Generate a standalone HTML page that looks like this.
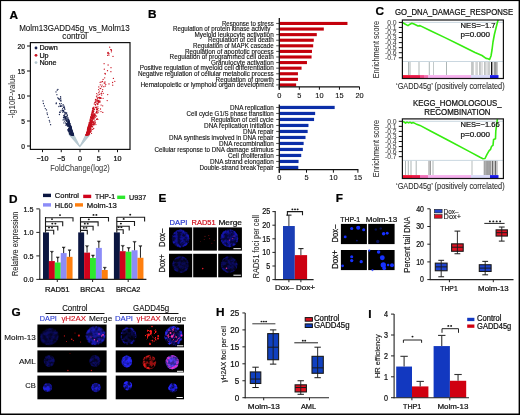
<!DOCTYPE html>
<html><head><meta charset="utf-8"><style>
html,body{margin:0;padding:0;background:#fff;}
svg{display:block;font-family:"Liberation Sans", sans-serif;}
svg{will-change:transform;}
</style></head><body>
<svg width="520" height="415" viewBox="0 0 520 415">
<defs>
<filter id="blurA" x="-50%" y="-50%" width="200%" height="200%"><feGaussianBlur stdDeviation="1.2"/></filter>
<filter id="blurB" x="-100%" y="-100%" width="300%" height="300%"><feGaussianBlur stdDeviation="0.6"/></filter>
<filter id="blurC" x="-50%" y="-50%" width="200%" height="200%"><feGaussianBlur stdDeviation="0.7"/></filter>
<filter id="tx" x="-20%" y="-20%" width="140%" height="140%" color-interpolation-filters="sRGB"><feTurbulence type="fractalNoise" baseFrequency="0.32" numOctaves="2" seed="4" result="n"/><feColorMatrix in="n" type="matrix" values="0 0 0 0 0  0 0 0 0 0  0 0 0 0 0  3.2 0 0 0 -1.1" result="a"/><feComposite in="SourceGraphic" in2="a" operator="in"/><feGaussianBlur stdDeviation="0.35"/></filter>
<filter id="txs" x="-20%" y="-20%" width="140%" height="140%" color-interpolation-filters="sRGB"><feTurbulence type="fractalNoise" baseFrequency="0.4" numOctaves="2" seed="9" result="n"/><feColorMatrix in="n" type="matrix" values="0 0 0 0 0  0 0 0 0 0  0 0 0 0 0  7 0 0 0 -3.9" result="a"/><feComposite in="SourceGraphic" in2="a" operator="in"/><feGaussianBlur stdDeviation="0.3"/></filter>
</defs>
<rect x="0" y="0" width="520" height="415" fill="#fff"/>
<text x="9.60" y="18.50" font-size="11.8" text-anchor="start" fill="#000" stroke="#000" stroke-width="0.24" font-weight="bold">A</text>
<text x="74.50" y="30.60" font-size="9.0" text-anchor="middle" fill="#111" stroke="#111" stroke-width="0.1" textLength="110.60" lengthAdjust="spacingAndGlyphs">Molm13GADD45g_vs_Molm13</text>
<text x="74.65" y="39.20" font-size="9.0" text-anchor="middle" fill="#111" stroke="#111" stroke-width="0.1" textLength="24.70" lengthAdjust="spacingAndGlyphs">control</text>
<path d="M79.8,146.7 L69.2,134.5 L73.5,134.5 Z M79.8,146.7 L89.8,134.5 L86.1,134.5 Z" fill="#b6c8d0" stroke="#b6c8d0" stroke-width="1.2" stroke-linejoin="round"/>
<g>
<circle cx="70.3" cy="125.3" r="0.65" fill="#16214d"/>
<circle cx="58.9" cy="106.5" r="0.65" fill="#16214d"/>
<circle cx="68.9" cy="121.6" r="0.65" fill="#16214d"/>
<circle cx="71.4" cy="128.8" r="0.65" fill="#16214d"/>
<circle cx="60.5" cy="106.4" r="0.65" fill="#16214d"/>
<circle cx="70.3" cy="133.9" r="0.65" fill="#16214d"/>
<circle cx="71.5" cy="128.8" r="0.65" fill="#16214d"/>
<circle cx="68.3" cy="126.6" r="0.65" fill="#16214d"/>
<circle cx="73.4" cy="135.0" r="0.65" fill="#16214d"/>
<circle cx="63.4" cy="110.3" r="0.65" fill="#16214d"/>
<circle cx="66.7" cy="120.6" r="0.65" fill="#16214d"/>
<circle cx="70.6" cy="133.6" r="0.65" fill="#16214d"/>
<circle cx="70.5" cy="125.5" r="0.65" fill="#16214d"/>
<circle cx="67.1" cy="114.6" r="0.65" fill="#16214d"/>
<circle cx="71.8" cy="132.7" r="0.65" fill="#16214d"/>
<circle cx="59.4" cy="114.5" r="0.65" fill="#16214d"/>
<circle cx="70.4" cy="131.7" r="0.65" fill="#16214d"/>
<circle cx="69.4" cy="123.8" r="0.65" fill="#16214d"/>
<circle cx="70.4" cy="132.8" r="0.65" fill="#16214d"/>
<circle cx="61.0" cy="101.1" r="0.65" fill="#16214d"/>
<circle cx="65.8" cy="112.7" r="0.65" fill="#16214d"/>
<circle cx="71.5" cy="133.3" r="0.65" fill="#16214d"/>
<circle cx="71.8" cy="133.5" r="0.65" fill="#16214d"/>
<circle cx="70.0" cy="125.9" r="0.65" fill="#16214d"/>
<circle cx="73.0" cy="135.1" r="0.65" fill="#16214d"/>
<circle cx="70.9" cy="131.4" r="0.65" fill="#16214d"/>
<circle cx="66.0" cy="118.0" r="0.65" fill="#16214d"/>
<circle cx="71.3" cy="128.5" r="0.65" fill="#16214d"/>
<circle cx="63.9" cy="122.9" r="0.65" fill="#16214d"/>
<circle cx="72.1" cy="134.9" r="0.65" fill="#16214d"/>
<circle cx="69.0" cy="121.2" r="0.65" fill="#16214d"/>
<circle cx="68.4" cy="119.6" r="0.65" fill="#16214d"/>
<circle cx="71.9" cy="130.5" r="0.65" fill="#16214d"/>
<circle cx="73.3" cy="134.6" r="0.65" fill="#16214d"/>
<circle cx="71.9" cy="133.1" r="0.65" fill="#16214d"/>
<circle cx="68.7" cy="121.0" r="0.65" fill="#16214d"/>
<circle cx="62.6" cy="108.6" r="0.65" fill="#16214d"/>
<circle cx="71.6" cy="130.7" r="0.65" fill="#16214d"/>
<circle cx="71.1" cy="127.7" r="0.65" fill="#16214d"/>
<circle cx="68.1" cy="121.3" r="0.65" fill="#16214d"/>
<circle cx="68.2" cy="119.1" r="0.65" fill="#16214d"/>
<circle cx="63.8" cy="105.9" r="0.65" fill="#16214d"/>
<circle cx="72.1" cy="134.1" r="0.65" fill="#16214d"/>
<circle cx="62.2" cy="110.1" r="0.65" fill="#16214d"/>
<circle cx="70.2" cy="130.9" r="0.65" fill="#16214d"/>
<circle cx="71.4" cy="131.4" r="0.65" fill="#16214d"/>
<circle cx="72.1" cy="131.3" r="0.65" fill="#16214d"/>
<circle cx="72.5" cy="133.5" r="0.65" fill="#16214d"/>
<circle cx="68.6" cy="123.4" r="0.65" fill="#16214d"/>
<circle cx="73.4" cy="134.6" r="0.65" fill="#16214d"/>
<circle cx="56.0" cy="91.9" r="0.65" fill="#16214d"/>
<circle cx="72.3" cy="132.4" r="0.65" fill="#16214d"/>
<circle cx="69.7" cy="126.1" r="0.65" fill="#16214d"/>
<circle cx="70.0" cy="129.6" r="0.65" fill="#16214d"/>
<circle cx="73.0" cy="134.5" r="0.65" fill="#16214d"/>
<circle cx="71.2" cy="128.3" r="0.65" fill="#16214d"/>
<circle cx="65.0" cy="116.9" r="0.65" fill="#16214d"/>
<circle cx="60.3" cy="105.2" r="0.65" fill="#16214d"/>
<circle cx="70.2" cy="125.1" r="0.65" fill="#16214d"/>
<circle cx="70.9" cy="129.4" r="0.65" fill="#16214d"/>
<circle cx="72.3" cy="133.5" r="0.65" fill="#16214d"/>
<circle cx="70.3" cy="129.1" r="0.65" fill="#16214d"/>
<circle cx="64.7" cy="116.0" r="0.65" fill="#16214d"/>
<circle cx="71.2" cy="128.4" r="0.65" fill="#16214d"/>
<circle cx="67.6" cy="122.0" r="0.65" fill="#16214d"/>
<circle cx="71.7" cy="129.9" r="0.65" fill="#16214d"/>
<circle cx="69.5" cy="133.5" r="0.65" fill="#16214d"/>
<circle cx="56.3" cy="103.0" r="0.65" fill="#16214d"/>
<circle cx="68.5" cy="125.2" r="0.65" fill="#16214d"/>
<circle cx="73.3" cy="134.2" r="0.65" fill="#16214d"/>
<circle cx="71.9" cy="131.9" r="0.65" fill="#16214d"/>
<circle cx="68.5" cy="130.6" r="0.65" fill="#16214d"/>
<circle cx="68.2" cy="119.7" r="0.65" fill="#16214d"/>
<circle cx="66.8" cy="124.2" r="0.65" fill="#16214d"/>
<circle cx="66.7" cy="120.8" r="0.65" fill="#16214d"/>
<circle cx="70.4" cy="131.8" r="0.65" fill="#16214d"/>
<circle cx="71.1" cy="128.5" r="0.65" fill="#16214d"/>
<circle cx="69.8" cy="131.6" r="0.65" fill="#16214d"/>
<circle cx="62.0" cy="106.0" r="0.65" fill="#16214d"/>
<circle cx="71.9" cy="135.0" r="0.65" fill="#16214d"/>
<circle cx="71.1" cy="127.2" r="0.65" fill="#16214d"/>
<circle cx="68.7" cy="128.9" r="0.65" fill="#16214d"/>
<circle cx="65.5" cy="118.1" r="0.65" fill="#16214d"/>
<circle cx="69.6" cy="130.8" r="0.65" fill="#16214d"/>
<circle cx="70.0" cy="124.8" r="0.65" fill="#16214d"/>
<circle cx="68.8" cy="130.8" r="0.65" fill="#16214d"/>
<circle cx="65.0" cy="116.6" r="0.65" fill="#16214d"/>
<circle cx="57.7" cy="97.8" r="0.65" fill="#16214d"/>
<circle cx="59.6" cy="103.7" r="0.65" fill="#16214d"/>
<circle cx="72.8" cy="133.3" r="0.65" fill="#16214d"/>
<circle cx="65.1" cy="117.0" r="0.65" fill="#16214d"/>
<circle cx="68.9" cy="123.3" r="0.65" fill="#16214d"/>
<circle cx="69.4" cy="122.4" r="0.65" fill="#16214d"/>
<circle cx="67.3" cy="119.9" r="0.65" fill="#16214d"/>
<circle cx="69.8" cy="126.4" r="0.65" fill="#16214d"/>
<circle cx="68.6" cy="125.3" r="0.65" fill="#16214d"/>
<circle cx="66.4" cy="120.2" r="0.65" fill="#16214d"/>
<circle cx="71.6" cy="134.8" r="0.65" fill="#16214d"/>
<circle cx="70.8" cy="133.4" r="0.65" fill="#16214d"/>
<circle cx="71.9" cy="132.6" r="0.65" fill="#16214d"/>
<circle cx="69.5" cy="123.5" r="0.65" fill="#16214d"/>
<circle cx="71.2" cy="128.7" r="0.65" fill="#16214d"/>
<circle cx="71.9" cy="132.5" r="0.65" fill="#16214d"/>
<circle cx="72.1" cy="131.3" r="0.65" fill="#16214d"/>
<circle cx="72.8" cy="133.1" r="0.65" fill="#16214d"/>
<circle cx="71.1" cy="128.8" r="0.65" fill="#16214d"/>
<circle cx="70.2" cy="130.3" r="0.65" fill="#16214d"/>
<circle cx="71.2" cy="132.4" r="0.65" fill="#16214d"/>
<circle cx="63.3" cy="111.8" r="0.65" fill="#16214d"/>
<circle cx="72.5" cy="131.8" r="0.65" fill="#16214d"/>
<circle cx="69.3" cy="129.8" r="0.65" fill="#16214d"/>
<circle cx="69.8" cy="130.4" r="0.65" fill="#16214d"/>
<circle cx="72.9" cy="134.7" r="0.65" fill="#16214d"/>
<circle cx="70.5" cy="127.2" r="0.65" fill="#16214d"/>
<circle cx="68.3" cy="131.0" r="0.65" fill="#16214d"/>
<circle cx="65.1" cy="118.0" r="0.65" fill="#16214d"/>
<circle cx="70.8" cy="129.7" r="0.65" fill="#16214d"/>
<circle cx="69.7" cy="130.5" r="0.65" fill="#16214d"/>
<circle cx="71.3" cy="133.6" r="0.65" fill="#16214d"/>
<circle cx="61.3" cy="103.6" r="0.65" fill="#16214d"/>
<circle cx="60.3" cy="100.7" r="0.65" fill="#16214d"/>
<circle cx="64.9" cy="112.7" r="0.65" fill="#16214d"/>
<circle cx="72.1" cy="135.1" r="0.65" fill="#16214d"/>
<circle cx="68.9" cy="125.6" r="0.65" fill="#16214d"/>
<circle cx="70.7" cy="133.6" r="0.65" fill="#16214d"/>
<circle cx="69.3" cy="130.4" r="0.65" fill="#16214d"/>
<circle cx="71.6" cy="129.4" r="0.65" fill="#16214d"/>
<circle cx="59.4" cy="99.2" r="0.65" fill="#16214d"/>
<circle cx="68.1" cy="130.3" r="0.65" fill="#16214d"/>
<circle cx="69.6" cy="126.0" r="0.65" fill="#16214d"/>
<circle cx="70.6" cy="132.1" r="0.65" fill="#16214d"/>
<circle cx="71.6" cy="129.7" r="0.65" fill="#16214d"/>
<circle cx="70.3" cy="131.3" r="0.65" fill="#16214d"/>
<circle cx="72.3" cy="131.7" r="0.65" fill="#16214d"/>
<circle cx="69.6" cy="128.6" r="0.65" fill="#16214d"/>
<circle cx="69.9" cy="129.2" r="0.65" fill="#16214d"/>
<circle cx="71.8" cy="131.6" r="0.65" fill="#16214d"/>
<circle cx="70.7" cy="135.0" r="0.65" fill="#16214d"/>
<circle cx="70.5" cy="127.5" r="0.65" fill="#16214d"/>
<circle cx="63.1" cy="119.9" r="0.65" fill="#16214d"/>
<circle cx="72.6" cy="132.3" r="0.65" fill="#16214d"/>
<circle cx="57.2" cy="90.2" r="0.65" fill="#16214d"/>
<circle cx="70.9" cy="131.6" r="0.65" fill="#16214d"/>
<circle cx="68.8" cy="124.7" r="0.65" fill="#16214d"/>
<circle cx="70.6" cy="125.8" r="0.65" fill="#16214d"/>
<circle cx="67.9" cy="120.8" r="0.65" fill="#16214d"/>
<circle cx="70.9" cy="131.5" r="0.65" fill="#16214d"/>
<circle cx="72.1" cy="131.6" r="0.65" fill="#16214d"/>
<circle cx="69.3" cy="127.6" r="0.65" fill="#16214d"/>
<circle cx="68.8" cy="121.4" r="0.65" fill="#16214d"/>
<circle cx="69.2" cy="126.2" r="0.65" fill="#16214d"/>
<circle cx="71.3" cy="129.0" r="0.65" fill="#16214d"/>
<circle cx="62.9" cy="110.3" r="0.65" fill="#16214d"/>
<circle cx="72.3" cy="135.0" r="0.65" fill="#16214d"/>
<circle cx="66.0" cy="120.0" r="0.65" fill="#16214d"/>
<circle cx="68.4" cy="122.8" r="0.65" fill="#16214d"/>
<circle cx="65.7" cy="125.1" r="0.65" fill="#16214d"/>
<circle cx="71.6" cy="130.2" r="0.65" fill="#16214d"/>
<circle cx="71.3" cy="130.1" r="0.65" fill="#16214d"/>
<circle cx="71.5" cy="131.6" r="0.65" fill="#16214d"/>
<circle cx="63.5" cy="117.4" r="0.65" fill="#16214d"/>
<circle cx="68.1" cy="123.2" r="0.65" fill="#16214d"/>
<circle cx="71.0" cy="129.4" r="0.65" fill="#16214d"/>
<circle cx="60.9" cy="110.9" r="0.65" fill="#16214d"/>
<circle cx="71.0" cy="133.6" r="0.65" fill="#16214d"/>
<circle cx="71.1" cy="128.2" r="0.65" fill="#16214d"/>
<circle cx="70.9" cy="131.1" r="0.65" fill="#16214d"/>
<circle cx="65.6" cy="118.4" r="0.65" fill="#16214d"/>
<circle cx="73.0" cy="134.4" r="0.65" fill="#16214d"/>
<circle cx="64.1" cy="119.4" r="0.65" fill="#16214d"/>
<circle cx="66.7" cy="124.2" r="0.65" fill="#16214d"/>
<circle cx="60.6" cy="96.6" r="0.65" fill="#16214d"/>
<circle cx="65.6" cy="123.0" r="0.65" fill="#16214d"/>
<circle cx="71.8" cy="132.6" r="0.65" fill="#16214d"/>
<circle cx="67.0" cy="124.7" r="0.65" fill="#16214d"/>
<circle cx="72.3" cy="133.7" r="0.65" fill="#16214d"/>
<circle cx="71.6" cy="131.6" r="0.65" fill="#16214d"/>
<circle cx="70.0" cy="125.7" r="0.65" fill="#16214d"/>
<circle cx="70.5" cy="129.8" r="0.65" fill="#16214d"/>
<circle cx="71.6" cy="134.7" r="0.65" fill="#16214d"/>
<circle cx="72.7" cy="134.0" r="0.65" fill="#16214d"/>
<circle cx="72.9" cy="134.5" r="0.65" fill="#16214d"/>
<circle cx="70.7" cy="126.5" r="0.65" fill="#16214d"/>
<circle cx="69.7" cy="133.7" r="0.65" fill="#16214d"/>
<circle cx="70.8" cy="129.4" r="0.65" fill="#16214d"/>
<circle cx="69.0" cy="128.4" r="0.65" fill="#16214d"/>
<circle cx="64.1" cy="107.2" r="0.65" fill="#16214d"/>
<circle cx="69.3" cy="123.1" r="0.65" fill="#16214d"/>
<circle cx="71.7" cy="133.5" r="0.65" fill="#16214d"/>
<circle cx="63.4" cy="111.0" r="0.65" fill="#16214d"/>
<circle cx="69.9" cy="127.0" r="0.65" fill="#16214d"/>
<circle cx="70.0" cy="127.1" r="0.65" fill="#16214d"/>
<circle cx="72.6" cy="132.2" r="0.65" fill="#16214d"/>
<circle cx="71.1" cy="133.7" r="0.65" fill="#16214d"/>
<circle cx="70.8" cy="132.4" r="0.65" fill="#16214d"/>
<circle cx="70.9" cy="133.1" r="0.65" fill="#16214d"/>
<circle cx="69.1" cy="122.6" r="0.65" fill="#16214d"/>
<circle cx="69.4" cy="124.1" r="0.65" fill="#16214d"/>
<circle cx="71.7" cy="134.1" r="0.65" fill="#16214d"/>
<circle cx="71.1" cy="132.4" r="0.65" fill="#16214d"/>
<circle cx="64.6" cy="114.2" r="0.65" fill="#16214d"/>
<circle cx="68.3" cy="119.2" r="0.65" fill="#16214d"/>
<circle cx="73.4" cy="134.8" r="0.65" fill="#16214d"/>
<circle cx="72.5" cy="133.5" r="0.65" fill="#16214d"/>
<circle cx="63.1" cy="104.7" r="0.65" fill="#16214d"/>
<circle cx="72.1" cy="133.9" r="0.65" fill="#16214d"/>
<circle cx="58.9" cy="99.1" r="0.65" fill="#16214d"/>
<circle cx="70.4" cy="133.6" r="0.65" fill="#16214d"/>
<circle cx="69.6" cy="125.3" r="0.65" fill="#16214d"/>
<circle cx="71.2" cy="131.0" r="0.65" fill="#16214d"/>
<circle cx="69.4" cy="125.6" r="0.65" fill="#16214d"/>
<circle cx="71.8" cy="133.6" r="0.65" fill="#16214d"/>
<circle cx="65.2" cy="117.3" r="0.65" fill="#16214d"/>
<circle cx="69.0" cy="129.4" r="0.65" fill="#16214d"/>
<circle cx="64.0" cy="116.0" r="0.65" fill="#16214d"/>
<circle cx="70.6" cy="126.6" r="0.65" fill="#16214d"/>
<circle cx="68.5" cy="121.6" r="0.65" fill="#16214d"/>
<circle cx="73.1" cy="134.8" r="0.65" fill="#16214d"/>
<circle cx="69.4" cy="132.8" r="0.65" fill="#16214d"/>
<circle cx="70.5" cy="128.5" r="0.65" fill="#16214d"/>
<circle cx="66.4" cy="120.8" r="0.65" fill="#16214d"/>
<circle cx="66.7" cy="113.0" r="0.65" fill="#16214d"/>
<circle cx="68.4" cy="125.4" r="0.65" fill="#16214d"/>
<circle cx="72.4" cy="134.0" r="0.65" fill="#16214d"/>
<circle cx="72.2" cy="133.4" r="0.65" fill="#16214d"/>
<circle cx="70.5" cy="130.2" r="0.65" fill="#16214d"/>
<circle cx="65.7" cy="113.9" r="0.65" fill="#16214d"/>
<circle cx="71.4" cy="131.9" r="0.65" fill="#16214d"/>
<circle cx="72.7" cy="133.3" r="0.65" fill="#16214d"/>
<circle cx="70.1" cy="128.5" r="0.65" fill="#16214d"/>
<circle cx="72.2" cy="134.8" r="0.65" fill="#16214d"/>
<circle cx="63.5" cy="107.3" r="0.65" fill="#16214d"/>
<circle cx="68.8" cy="123.5" r="0.65" fill="#16214d"/>
<circle cx="61.2" cy="106.0" r="0.65" fill="#16214d"/>
<circle cx="72.5" cy="133.8" r="0.65" fill="#16214d"/>
<circle cx="68.5" cy="123.9" r="0.65" fill="#16214d"/>
<circle cx="68.7" cy="122.0" r="0.65" fill="#16214d"/>
<circle cx="72.6" cy="134.8" r="0.65" fill="#16214d"/>
<circle cx="71.2" cy="132.5" r="0.65" fill="#16214d"/>
<circle cx="60.5" cy="98.8" r="0.65" fill="#16214d"/>
<circle cx="71.4" cy="130.6" r="0.65" fill="#16214d"/>
<circle cx="70.7" cy="131.8" r="0.65" fill="#16214d"/>
<circle cx="69.2" cy="121.9" r="0.65" fill="#16214d"/>
<circle cx="71.7" cy="132.3" r="0.65" fill="#16214d"/>
<circle cx="67.1" cy="123.9" r="0.65" fill="#16214d"/>
<circle cx="70.8" cy="129.5" r="0.65" fill="#16214d"/>
<circle cx="60.7" cy="98.0" r="0.65" fill="#16214d"/>
<circle cx="68.8" cy="120.0" r="0.65" fill="#16214d"/>
<circle cx="69.6" cy="129.8" r="0.65" fill="#16214d"/>
<circle cx="57.9" cy="89.4" r="0.65" fill="#16214d"/>
<circle cx="70.8" cy="127.8" r="0.65" fill="#16214d"/>
<circle cx="72.7" cy="134.4" r="0.65" fill="#16214d"/>
<circle cx="59.6" cy="112.2" r="0.65" fill="#16214d"/>
<circle cx="73.2" cy="134.5" r="0.65" fill="#16214d"/>
<circle cx="71.0" cy="132.3" r="0.65" fill="#16214d"/>
<circle cx="72.9" cy="134.5" r="0.65" fill="#16214d"/>
<circle cx="71.4" cy="132.2" r="0.65" fill="#16214d"/>
<circle cx="72.6" cy="134.6" r="0.65" fill="#16214d"/>
<circle cx="72.5" cy="134.7" r="0.65" fill="#16214d"/>
<circle cx="71.1" cy="128.0" r="0.65" fill="#16214d"/>
<circle cx="71.2" cy="130.0" r="0.65" fill="#16214d"/>
<circle cx="72.2" cy="131.3" r="0.65" fill="#16214d"/>
<circle cx="69.6" cy="134.0" r="0.65" fill="#16214d"/>
<circle cx="69.5" cy="126.0" r="0.65" fill="#16214d"/>
<circle cx="67.4" cy="115.7" r="0.65" fill="#16214d"/>
<circle cx="70.8" cy="127.3" r="0.65" fill="#16214d"/>
<circle cx="69.8" cy="128.4" r="0.65" fill="#16214d"/>
<circle cx="69.6" cy="125.3" r="0.65" fill="#16214d"/>
<circle cx="67.8" cy="122.2" r="0.65" fill="#16214d"/>
<circle cx="70.8" cy="129.1" r="0.65" fill="#16214d"/>
<circle cx="67.9" cy="117.6" r="0.65" fill="#16214d"/>
<circle cx="71.5" cy="131.4" r="0.65" fill="#16214d"/>
<circle cx="72.8" cy="134.2" r="0.65" fill="#16214d"/>
<circle cx="69.1" cy="131.3" r="0.65" fill="#16214d"/>
<circle cx="72.0" cy="133.7" r="0.65" fill="#16214d"/>
<circle cx="72.7" cy="134.2" r="0.65" fill="#16214d"/>
<circle cx="70.6" cy="129.5" r="0.65" fill="#16214d"/>
<circle cx="72.8" cy="134.5" r="0.65" fill="#16214d"/>
<circle cx="68.4" cy="123.0" r="0.65" fill="#16214d"/>
<circle cx="72.2" cy="131.7" r="0.65" fill="#16214d"/>
<circle cx="70.5" cy="130.4" r="0.65" fill="#16214d"/>
<circle cx="71.3" cy="131.3" r="0.65" fill="#16214d"/>
<circle cx="64.4" cy="121.1" r="0.65" fill="#16214d"/>
<circle cx="68.6" cy="124.5" r="0.65" fill="#16214d"/>
<circle cx="66.8" cy="120.8" r="0.65" fill="#16214d"/>
<circle cx="67.0" cy="118.1" r="0.65" fill="#16214d"/>
<circle cx="66.8" cy="124.4" r="0.65" fill="#16214d"/>
<circle cx="68.8" cy="123.0" r="0.65" fill="#16214d"/>
<circle cx="71.9" cy="132.0" r="0.65" fill="#16214d"/>
<circle cx="71.6" cy="133.7" r="0.65" fill="#16214d"/>
<circle cx="72.7" cy="134.4" r="0.65" fill="#16214d"/>
<circle cx="68.5" cy="123.8" r="0.65" fill="#16214d"/>
<circle cx="69.7" cy="131.7" r="0.65" fill="#16214d"/>
<circle cx="69.7" cy="127.0" r="0.65" fill="#16214d"/>
<circle cx="72.7" cy="134.8" r="0.65" fill="#16214d"/>
<circle cx="71.9" cy="130.7" r="0.65" fill="#16214d"/>
<circle cx="63.9" cy="115.5" r="0.65" fill="#16214d"/>
<circle cx="72.0" cy="132.5" r="0.65" fill="#16214d"/>
<circle cx="70.7" cy="129.5" r="0.65" fill="#16214d"/>
<circle cx="72.5" cy="135.0" r="0.65" fill="#16214d"/>
<circle cx="69.3" cy="126.3" r="0.65" fill="#16214d"/>
<circle cx="70.9" cy="134.1" r="0.65" fill="#16214d"/>
<circle cx="69.7" cy="127.5" r="0.65" fill="#16214d"/>
<circle cx="69.1" cy="129.2" r="0.65" fill="#16214d"/>
<circle cx="64.5" cy="107.2" r="0.65" fill="#16214d"/>
<circle cx="71.5" cy="131.3" r="0.65" fill="#16214d"/>
<circle cx="62.8" cy="110.4" r="0.65" fill="#16214d"/>
<circle cx="71.3" cy="129.3" r="0.65" fill="#16214d"/>
<circle cx="66.3" cy="120.5" r="0.65" fill="#16214d"/>
<circle cx="61.0" cy="100.1" r="0.65" fill="#16214d"/>
<circle cx="67.7" cy="126.0" r="0.65" fill="#16214d"/>
<circle cx="69.8" cy="129.7" r="0.65" fill="#16214d"/>
<circle cx="73.0" cy="134.6" r="0.65" fill="#16214d"/>
<circle cx="70.8" cy="126.5" r="0.65" fill="#16214d"/>
<circle cx="70.1" cy="128.5" r="0.65" fill="#16214d"/>
<circle cx="71.6" cy="132.7" r="0.65" fill="#16214d"/>
<circle cx="71.9" cy="131.9" r="0.65" fill="#16214d"/>
<circle cx="69.9" cy="130.7" r="0.65" fill="#16214d"/>
<circle cx="69.1" cy="121.2" r="0.65" fill="#16214d"/>
<circle cx="71.1" cy="132.2" r="0.65" fill="#16214d"/>
<circle cx="56.9" cy="94.7" r="0.65" fill="#16214d"/>
<circle cx="67.0" cy="125.5" r="0.65" fill="#16214d"/>
<circle cx="69.8" cy="130.0" r="0.65" fill="#16214d"/>
<circle cx="68.6" cy="128.4" r="0.65" fill="#16214d"/>
<circle cx="73.1" cy="134.7" r="0.65" fill="#16214d"/>
<circle cx="68.7" cy="122.5" r="0.65" fill="#16214d"/>
<circle cx="64.8" cy="112.1" r="0.65" fill="#16214d"/>
<circle cx="69.3" cy="131.2" r="0.65" fill="#16214d"/>
<circle cx="67.9" cy="123.6" r="0.65" fill="#16214d"/>
<circle cx="65.9" cy="119.0" r="0.65" fill="#16214d"/>
<circle cx="69.9" cy="130.4" r="0.65" fill="#16214d"/>
<circle cx="70.7" cy="126.3" r="0.65" fill="#16214d"/>
<circle cx="71.8" cy="133.1" r="0.65" fill="#16214d"/>
<circle cx="72.6" cy="134.8" r="0.65" fill="#16214d"/>
<circle cx="70.9" cy="131.4" r="0.65" fill="#16214d"/>
<circle cx="68.0" cy="122.9" r="0.65" fill="#16214d"/>
<circle cx="68.5" cy="130.0" r="0.65" fill="#16214d"/>
<circle cx="64.9" cy="109.3" r="0.65" fill="#16214d"/>
<circle cx="68.5" cy="123.3" r="0.65" fill="#16214d"/>
<circle cx="65.8" cy="119.1" r="0.65" fill="#16214d"/>
<circle cx="69.8" cy="130.6" r="0.65" fill="#16214d"/>
<circle cx="69.6" cy="127.7" r="0.65" fill="#16214d"/>
<circle cx="71.9" cy="131.8" r="0.65" fill="#16214d"/>
<circle cx="71.8" cy="130.7" r="0.65" fill="#16214d"/>
<circle cx="70.7" cy="126.4" r="0.65" fill="#16214d"/>
<circle cx="69.6" cy="131.4" r="0.65" fill="#16214d"/>
<circle cx="64.6" cy="108.6" r="0.65" fill="#16214d"/>
<circle cx="70.8" cy="134.4" r="0.65" fill="#16214d"/>
<circle cx="66.3" cy="121.1" r="0.65" fill="#16214d"/>
<circle cx="60.1" cy="112.4" r="0.65" fill="#16214d"/>
<circle cx="68.0" cy="123.5" r="0.65" fill="#16214d"/>
<circle cx="67.7" cy="125.7" r="0.65" fill="#16214d"/>
<circle cx="69.2" cy="132.8" r="0.65" fill="#16214d"/>
<circle cx="72.3" cy="132.4" r="0.65" fill="#16214d"/>
<circle cx="58.5" cy="98.3" r="0.65" fill="#16214d"/>
<circle cx="73.2" cy="135.1" r="0.65" fill="#16214d"/>
<circle cx="70.8" cy="130.2" r="0.65" fill="#16214d"/>
<circle cx="62.6" cy="112.1" r="0.65" fill="#16214d"/>
<circle cx="63.8" cy="111.0" r="0.65" fill="#16214d"/>
<circle cx="72.1" cy="133.9" r="0.65" fill="#16214d"/>
<circle cx="66.5" cy="123.4" r="0.65" fill="#16214d"/>
<circle cx="71.1" cy="130.4" r="0.65" fill="#16214d"/>
<circle cx="66.2" cy="113.3" r="0.65" fill="#16214d"/>
<circle cx="71.1" cy="132.0" r="0.65" fill="#16214d"/>
<circle cx="69.5" cy="125.4" r="0.65" fill="#16214d"/>
<circle cx="69.7" cy="125.1" r="0.65" fill="#16214d"/>
<circle cx="68.9" cy="120.6" r="0.65" fill="#16214d"/>
<circle cx="70.2" cy="126.8" r="0.65" fill="#16214d"/>
<circle cx="65.0" cy="117.4" r="0.65" fill="#16214d"/>
<circle cx="69.8" cy="129.7" r="0.65" fill="#16214d"/>
<circle cx="67.8" cy="129.6" r="0.65" fill="#16214d"/>
<circle cx="71.7" cy="131.5" r="0.65" fill="#16214d"/>
<circle cx="68.9" cy="131.8" r="0.65" fill="#16214d"/>
<circle cx="70.2" cy="133.0" r="0.65" fill="#16214d"/>
<circle cx="72.0" cy="134.8" r="0.65" fill="#16214d"/>
<circle cx="68.9" cy="125.9" r="0.65" fill="#16214d"/>
<circle cx="72.1" cy="133.1" r="0.65" fill="#16214d"/>
<circle cx="67.6" cy="124.7" r="0.65" fill="#16214d"/>
<circle cx="69.8" cy="123.4" r="0.65" fill="#16214d"/>
<circle cx="70.8" cy="128.5" r="0.65" fill="#16214d"/>
<circle cx="65.7" cy="117.1" r="0.65" fill="#16214d"/>
<circle cx="67.0" cy="116.1" r="0.65" fill="#16214d"/>
<circle cx="68.9" cy="124.7" r="0.65" fill="#16214d"/>
<circle cx="69.1" cy="123.2" r="0.65" fill="#16214d"/>
<circle cx="66.6" cy="116.7" r="0.65" fill="#16214d"/>
<circle cx="72.8" cy="132.9" r="0.65" fill="#16214d"/>
<circle cx="72.2" cy="133.4" r="0.65" fill="#16214d"/>
<circle cx="69.9" cy="125.5" r="0.65" fill="#16214d"/>
<circle cx="73.1" cy="134.0" r="0.65" fill="#16214d"/>
<circle cx="64.1" cy="118.2" r="0.65" fill="#16214d"/>
<circle cx="67.2" cy="118.8" r="0.65" fill="#16214d"/>
<circle cx="56.2" cy="103.7" r="0.65" fill="#16214d"/>
<circle cx="69.5" cy="125.3" r="0.65" fill="#16214d"/>
<circle cx="73.1" cy="134.0" r="0.65" fill="#16214d"/>
<circle cx="72.9" cy="134.4" r="0.65" fill="#16214d"/>
<circle cx="69.8" cy="129.0" r="0.65" fill="#16214d"/>
<circle cx="70.0" cy="123.7" r="0.65" fill="#16214d"/>
<circle cx="71.2" cy="129.9" r="0.65" fill="#16214d"/>
<circle cx="43.0" cy="100.9" r="0.65" fill="#16214d"/>
<circle cx="43.4" cy="103.5" r="0.65" fill="#16214d"/>
<circle cx="44.4" cy="105.9" r="0.65" fill="#16214d"/>
<circle cx="45.3" cy="108.6" r="0.65" fill="#16214d"/>
<circle cx="46.5" cy="109.9" r="0.65" fill="#16214d"/>
<circle cx="47.1" cy="113.0" r="0.65" fill="#16214d"/>
<circle cx="47.4" cy="114.6" r="0.65" fill="#16214d"/>
<circle cx="48.3" cy="117.3" r="0.65" fill="#16214d"/>
<circle cx="49.3" cy="120.3" r="0.65" fill="#16214d"/>
<circle cx="49.7" cy="121.9" r="0.65" fill="#16214d"/>
<circle cx="50.6" cy="124.7" r="0.65" fill="#16214d"/>
<circle cx="96.2" cy="107.1" r="0.65" fill="#c8101e"/>
<circle cx="88.8" cy="127.7" r="0.65" fill="#c8101e"/>
<circle cx="96.1" cy="101.2" r="0.65" fill="#c8101e"/>
<circle cx="88.6" cy="125.3" r="0.65" fill="#c8101e"/>
<circle cx="87.7" cy="130.2" r="0.65" fill="#c8101e"/>
<circle cx="88.2" cy="129.4" r="0.65" fill="#c8101e"/>
<circle cx="91.5" cy="133.3" r="0.65" fill="#c8101e"/>
<circle cx="90.8" cy="121.1" r="0.65" fill="#c8101e"/>
<circle cx="89.2" cy="126.3" r="0.65" fill="#c8101e"/>
<circle cx="88.5" cy="127.2" r="0.65" fill="#c8101e"/>
<circle cx="101.1" cy="105.1" r="0.65" fill="#c8101e"/>
<circle cx="88.2" cy="127.0" r="0.65" fill="#c8101e"/>
<circle cx="86.1" cy="134.8" r="0.65" fill="#c8101e"/>
<circle cx="90.9" cy="126.4" r="0.65" fill="#c8101e"/>
<circle cx="91.2" cy="122.0" r="0.65" fill="#c8101e"/>
<circle cx="104.3" cy="69.2" r="0.65" fill="#c8101e"/>
<circle cx="89.8" cy="124.6" r="0.65" fill="#c8101e"/>
<circle cx="87.7" cy="129.2" r="0.65" fill="#c8101e"/>
<circle cx="103.1" cy="79.4" r="0.65" fill="#c8101e"/>
<circle cx="88.1" cy="134.1" r="0.65" fill="#c8101e"/>
<circle cx="88.8" cy="126.1" r="0.65" fill="#c8101e"/>
<circle cx="93.4" cy="118.9" r="0.65" fill="#c8101e"/>
<circle cx="101.4" cy="93.2" r="0.65" fill="#c8101e"/>
<circle cx="88.1" cy="134.4" r="0.65" fill="#c8101e"/>
<circle cx="86.4" cy="134.7" r="0.65" fill="#c8101e"/>
<circle cx="100.6" cy="97.8" r="0.65" fill="#c8101e"/>
<circle cx="97.8" cy="103.7" r="0.65" fill="#c8101e"/>
<circle cx="94.4" cy="109.7" r="0.65" fill="#c8101e"/>
<circle cx="101.7" cy="95.1" r="0.65" fill="#c8101e"/>
<circle cx="92.0" cy="125.2" r="0.65" fill="#c8101e"/>
<circle cx="107.5" cy="70.7" r="0.65" fill="#c8101e"/>
<circle cx="88.6" cy="125.3" r="0.65" fill="#c8101e"/>
<circle cx="89.2" cy="129.4" r="0.65" fill="#c8101e"/>
<circle cx="91.5" cy="115.3" r="0.65" fill="#c8101e"/>
<circle cx="87.6" cy="132.7" r="0.65" fill="#c8101e"/>
<circle cx="88.0" cy="133.7" r="0.65" fill="#c8101e"/>
<circle cx="92.2" cy="126.5" r="0.65" fill="#c8101e"/>
<circle cx="89.5" cy="131.2" r="0.65" fill="#c8101e"/>
<circle cx="88.0" cy="134.8" r="0.65" fill="#c8101e"/>
<circle cx="97.2" cy="118.7" r="0.65" fill="#c8101e"/>
<circle cx="87.1" cy="132.5" r="0.65" fill="#c8101e"/>
<circle cx="112.7" cy="85.2" r="0.65" fill="#c8101e"/>
<circle cx="86.9" cy="134.5" r="0.65" fill="#c8101e"/>
<circle cx="89.5" cy="129.5" r="0.65" fill="#c8101e"/>
<circle cx="97.1" cy="109.9" r="0.65" fill="#c8101e"/>
<circle cx="89.1" cy="132.1" r="0.65" fill="#c8101e"/>
<circle cx="93.7" cy="122.0" r="0.65" fill="#c8101e"/>
<circle cx="86.9" cy="133.4" r="0.65" fill="#c8101e"/>
<circle cx="87.7" cy="133.0" r="0.65" fill="#c8101e"/>
<circle cx="89.9" cy="126.8" r="0.65" fill="#c8101e"/>
<circle cx="95.0" cy="123.4" r="0.65" fill="#c8101e"/>
<circle cx="89.9" cy="130.1" r="0.65" fill="#c8101e"/>
<circle cx="90.2" cy="120.0" r="0.65" fill="#c8101e"/>
<circle cx="96.7" cy="111.4" r="0.65" fill="#c8101e"/>
<circle cx="89.5" cy="132.5" r="0.65" fill="#c8101e"/>
<circle cx="86.3" cy="135.0" r="0.65" fill="#c8101e"/>
<circle cx="96.9" cy="108.6" r="0.65" fill="#c8101e"/>
<circle cx="92.1" cy="118.1" r="0.65" fill="#c8101e"/>
<circle cx="97.9" cy="106.8" r="0.65" fill="#c8101e"/>
<circle cx="86.9" cy="134.4" r="0.65" fill="#c8101e"/>
<circle cx="88.5" cy="126.3" r="0.65" fill="#c8101e"/>
<circle cx="88.0" cy="128.7" r="0.65" fill="#c8101e"/>
<circle cx="92.1" cy="124.3" r="0.65" fill="#c8101e"/>
<circle cx="92.6" cy="126.8" r="0.65" fill="#c8101e"/>
<circle cx="91.0" cy="121.5" r="0.65" fill="#c8101e"/>
<circle cx="114.8" cy="81.3" r="0.65" fill="#c8101e"/>
<circle cx="107.7" cy="55.4" r="0.65" fill="#c8101e"/>
<circle cx="101.7" cy="86.7" r="0.65" fill="#c8101e"/>
<circle cx="89.1" cy="133.7" r="0.65" fill="#c8101e"/>
<circle cx="90.9" cy="121.6" r="0.65" fill="#c8101e"/>
<circle cx="90.1" cy="126.2" r="0.65" fill="#c8101e"/>
<circle cx="90.8" cy="120.7" r="0.65" fill="#c8101e"/>
<circle cx="96.8" cy="103.2" r="0.65" fill="#c8101e"/>
<circle cx="91.1" cy="122.8" r="0.65" fill="#c8101e"/>
<circle cx="90.7" cy="120.1" r="0.65" fill="#c8101e"/>
<circle cx="88.1" cy="134.0" r="0.65" fill="#c8101e"/>
<circle cx="87.0" cy="133.4" r="0.65" fill="#c8101e"/>
<circle cx="105.0" cy="73.4" r="0.65" fill="#c8101e"/>
<circle cx="88.0" cy="129.6" r="0.65" fill="#c8101e"/>
<circle cx="98.8" cy="110.8" r="0.65" fill="#c8101e"/>
<circle cx="88.8" cy="129.6" r="0.65" fill="#c8101e"/>
<circle cx="91.2" cy="126.2" r="0.65" fill="#c8101e"/>
<circle cx="90.6" cy="117.3" r="0.65" fill="#c8101e"/>
<circle cx="99.5" cy="97.4" r="0.65" fill="#c8101e"/>
<circle cx="89.9" cy="124.7" r="0.65" fill="#c8101e"/>
<circle cx="87.4" cy="132.4" r="0.65" fill="#c8101e"/>
<circle cx="86.5" cy="134.1" r="0.65" fill="#c8101e"/>
<circle cx="88.0" cy="134.9" r="0.65" fill="#c8101e"/>
<circle cx="87.1" cy="134.3" r="0.65" fill="#c8101e"/>
<circle cx="100.6" cy="98.2" r="0.65" fill="#c8101e"/>
<circle cx="86.9" cy="134.4" r="0.65" fill="#c8101e"/>
<circle cx="92.8" cy="112.1" r="0.65" fill="#c8101e"/>
<circle cx="92.0" cy="118.1" r="0.65" fill="#c8101e"/>
<circle cx="102.5" cy="81.5" r="0.65" fill="#c8101e"/>
<circle cx="89.1" cy="133.0" r="0.65" fill="#c8101e"/>
<circle cx="87.5" cy="133.3" r="0.65" fill="#c8101e"/>
<circle cx="88.7" cy="133.9" r="0.65" fill="#c8101e"/>
<circle cx="98.0" cy="95.0" r="0.65" fill="#c8101e"/>
<circle cx="96.7" cy="112.1" r="0.65" fill="#c8101e"/>
<circle cx="97.3" cy="101.7" r="0.65" fill="#c8101e"/>
<circle cx="86.7" cy="132.8" r="0.65" fill="#c8101e"/>
<circle cx="89.3" cy="128.7" r="0.65" fill="#c8101e"/>
<circle cx="86.0" cy="135.1" r="0.65" fill="#c8101e"/>
<circle cx="103.2" cy="93.3" r="0.65" fill="#c8101e"/>
<circle cx="89.9" cy="123.8" r="0.65" fill="#c8101e"/>
<circle cx="88.7" cy="129.6" r="0.65" fill="#c8101e"/>
<circle cx="100.1" cy="82.3" r="0.65" fill="#c8101e"/>
<circle cx="89.0" cy="127.3" r="0.65" fill="#c8101e"/>
<circle cx="88.6" cy="133.6" r="0.65" fill="#c8101e"/>
<circle cx="92.9" cy="116.2" r="0.65" fill="#c8101e"/>
<circle cx="88.3" cy="131.6" r="0.65" fill="#c8101e"/>
<circle cx="94.5" cy="114.2" r="0.65" fill="#c8101e"/>
<circle cx="93.8" cy="124.4" r="0.65" fill="#c8101e"/>
<circle cx="88.6" cy="132.3" r="0.65" fill="#c8101e"/>
<circle cx="90.1" cy="129.5" r="0.65" fill="#c8101e"/>
<circle cx="96.7" cy="93.6" r="0.65" fill="#c8101e"/>
<circle cx="91.3" cy="120.5" r="0.65" fill="#c8101e"/>
<circle cx="96.7" cy="107.5" r="0.65" fill="#c8101e"/>
<circle cx="94.8" cy="102.6" r="0.65" fill="#c8101e"/>
<circle cx="88.4" cy="129.7" r="0.65" fill="#c8101e"/>
<circle cx="89.5" cy="127.1" r="0.65" fill="#c8101e"/>
<circle cx="92.2" cy="117.2" r="0.65" fill="#c8101e"/>
<circle cx="92.3" cy="116.7" r="0.65" fill="#c8101e"/>
<circle cx="93.2" cy="108.7" r="0.65" fill="#c8101e"/>
<circle cx="90.5" cy="127.7" r="0.65" fill="#c8101e"/>
<circle cx="98.5" cy="101.6" r="0.65" fill="#c8101e"/>
<circle cx="97.8" cy="119.4" r="0.65" fill="#c8101e"/>
<circle cx="90.2" cy="126.4" r="0.65" fill="#c8101e"/>
<circle cx="91.0" cy="116.9" r="0.65" fill="#c8101e"/>
<circle cx="90.3" cy="125.7" r="0.65" fill="#c8101e"/>
<circle cx="88.5" cy="127.9" r="0.65" fill="#c8101e"/>
<circle cx="92.5" cy="112.4" r="0.65" fill="#c8101e"/>
<circle cx="89.1" cy="125.6" r="0.65" fill="#c8101e"/>
<circle cx="88.3" cy="128.6" r="0.65" fill="#c8101e"/>
<circle cx="90.1" cy="131.5" r="0.65" fill="#c8101e"/>
<circle cx="99.6" cy="94.3" r="0.65" fill="#c8101e"/>
<circle cx="91.5" cy="122.4" r="0.65" fill="#c8101e"/>
<circle cx="88.5" cy="130.5" r="0.65" fill="#c8101e"/>
<circle cx="87.4" cy="134.6" r="0.65" fill="#c8101e"/>
<circle cx="87.2" cy="133.0" r="0.65" fill="#c8101e"/>
<circle cx="95.4" cy="122.2" r="0.65" fill="#c8101e"/>
<circle cx="91.5" cy="123.8" r="0.65" fill="#c8101e"/>
<circle cx="86.7" cy="133.1" r="0.65" fill="#c8101e"/>
<circle cx="91.0" cy="121.2" r="0.65" fill="#c8101e"/>
<circle cx="88.6" cy="133.5" r="0.65" fill="#c8101e"/>
<circle cx="88.9" cy="124.7" r="0.65" fill="#c8101e"/>
<circle cx="92.8" cy="129.4" r="0.65" fill="#c8101e"/>
<circle cx="90.7" cy="125.0" r="0.65" fill="#c8101e"/>
<circle cx="91.5" cy="130.9" r="0.65" fill="#c8101e"/>
<circle cx="88.7" cy="126.4" r="0.65" fill="#c8101e"/>
<circle cx="93.1" cy="117.0" r="0.65" fill="#c8101e"/>
<circle cx="95.5" cy="105.1" r="0.65" fill="#c8101e"/>
<circle cx="90.1" cy="121.5" r="0.65" fill="#c8101e"/>
<circle cx="100.3" cy="84.8" r="0.65" fill="#c8101e"/>
<circle cx="94.4" cy="123.8" r="0.65" fill="#c8101e"/>
<circle cx="92.3" cy="119.7" r="0.65" fill="#c8101e"/>
<circle cx="90.2" cy="122.6" r="0.65" fill="#c8101e"/>
<circle cx="90.7" cy="129.8" r="0.65" fill="#c8101e"/>
<circle cx="89.1" cy="123.7" r="0.65" fill="#c8101e"/>
<circle cx="89.2" cy="132.5" r="0.65" fill="#c8101e"/>
<circle cx="88.2" cy="131.0" r="0.65" fill="#c8101e"/>
<circle cx="89.2" cy="133.2" r="0.65" fill="#c8101e"/>
<circle cx="87.1" cy="132.5" r="0.65" fill="#c8101e"/>
<circle cx="89.7" cy="124.5" r="0.65" fill="#c8101e"/>
<circle cx="91.6" cy="117.7" r="0.65" fill="#c8101e"/>
<circle cx="93.2" cy="113.5" r="0.65" fill="#c8101e"/>
<circle cx="87.7" cy="133.1" r="0.65" fill="#c8101e"/>
<circle cx="88.9" cy="127.2" r="0.65" fill="#c8101e"/>
<circle cx="86.5" cy="134.1" r="0.65" fill="#c8101e"/>
<circle cx="94.6" cy="109.1" r="0.65" fill="#c8101e"/>
<circle cx="90.6" cy="127.7" r="0.65" fill="#c8101e"/>
<circle cx="91.2" cy="123.0" r="0.65" fill="#c8101e"/>
<circle cx="99.0" cy="97.9" r="0.65" fill="#c8101e"/>
<circle cx="88.8" cy="127.8" r="0.65" fill="#c8101e"/>
<circle cx="99.1" cy="97.4" r="0.65" fill="#c8101e"/>
<circle cx="90.4" cy="125.5" r="0.65" fill="#c8101e"/>
<circle cx="111.0" cy="67.7" r="0.65" fill="#c8101e"/>
<circle cx="96.6" cy="109.6" r="0.65" fill="#c8101e"/>
<circle cx="101.0" cy="111.6" r="0.65" fill="#c8101e"/>
<circle cx="87.8" cy="128.4" r="0.65" fill="#c8101e"/>
<circle cx="97.4" cy="100.6" r="0.65" fill="#c8101e"/>
<circle cx="98.4" cy="102.4" r="0.65" fill="#c8101e"/>
<circle cx="94.2" cy="114.8" r="0.65" fill="#c8101e"/>
<circle cx="93.0" cy="122.4" r="0.65" fill="#c8101e"/>
<circle cx="96.6" cy="112.7" r="0.65" fill="#c8101e"/>
<circle cx="89.0" cy="132.0" r="0.65" fill="#c8101e"/>
<circle cx="94.0" cy="122.8" r="0.65" fill="#c8101e"/>
<circle cx="92.8" cy="108.5" r="0.65" fill="#c8101e"/>
<circle cx="99.8" cy="102.4" r="0.65" fill="#c8101e"/>
<circle cx="89.9" cy="123.4" r="0.65" fill="#c8101e"/>
<circle cx="88.1" cy="132.8" r="0.65" fill="#c8101e"/>
<circle cx="107.2" cy="100.6" r="0.65" fill="#c8101e"/>
<circle cx="88.7" cy="130.2" r="0.65" fill="#c8101e"/>
<circle cx="91.3" cy="126.4" r="0.65" fill="#c8101e"/>
<circle cx="91.1" cy="116.5" r="0.65" fill="#c8101e"/>
<circle cx="87.3" cy="134.9" r="0.65" fill="#c8101e"/>
<circle cx="95.7" cy="115.9" r="0.65" fill="#c8101e"/>
<circle cx="91.4" cy="122.5" r="0.65" fill="#c8101e"/>
<circle cx="90.1" cy="124.8" r="0.65" fill="#c8101e"/>
<circle cx="91.8" cy="126.7" r="0.65" fill="#c8101e"/>
<circle cx="90.3" cy="118.8" r="0.65" fill="#c8101e"/>
<circle cx="95.1" cy="114.2" r="0.65" fill="#c8101e"/>
<circle cx="86.6" cy="134.0" r="0.65" fill="#c8101e"/>
<circle cx="90.3" cy="132.2" r="0.65" fill="#c8101e"/>
<circle cx="89.1" cy="134.0" r="0.65" fill="#c8101e"/>
<circle cx="86.9" cy="133.1" r="0.65" fill="#c8101e"/>
<circle cx="93.2" cy="124.1" r="0.65" fill="#c8101e"/>
<circle cx="90.8" cy="123.4" r="0.65" fill="#c8101e"/>
<circle cx="94.3" cy="121.8" r="0.65" fill="#c8101e"/>
<circle cx="93.8" cy="108.8" r="0.65" fill="#c8101e"/>
<circle cx="92.7" cy="117.5" r="0.65" fill="#c8101e"/>
<circle cx="96.1" cy="112.4" r="0.65" fill="#c8101e"/>
<circle cx="95.4" cy="100.8" r="0.65" fill="#c8101e"/>
<circle cx="96.5" cy="96.2" r="0.65" fill="#c8101e"/>
<circle cx="107.6" cy="53.0" r="0.65" fill="#c8101e"/>
<circle cx="88.7" cy="127.6" r="0.65" fill="#c8101e"/>
<circle cx="87.1" cy="133.2" r="0.65" fill="#c8101e"/>
<circle cx="87.8" cy="130.6" r="0.65" fill="#c8101e"/>
<circle cx="87.1" cy="135.0" r="0.65" fill="#c8101e"/>
<circle cx="93.3" cy="111.6" r="0.65" fill="#c8101e"/>
<circle cx="91.3" cy="126.2" r="0.65" fill="#c8101e"/>
<circle cx="107.7" cy="94.6" r="0.65" fill="#c8101e"/>
<circle cx="92.1" cy="114.1" r="0.65" fill="#c8101e"/>
<circle cx="91.3" cy="124.3" r="0.65" fill="#c8101e"/>
<circle cx="91.1" cy="125.6" r="0.65" fill="#c8101e"/>
<circle cx="93.4" cy="108.8" r="0.65" fill="#c8101e"/>
<circle cx="94.9" cy="113.8" r="0.65" fill="#c8101e"/>
<circle cx="97.2" cy="109.2" r="0.65" fill="#c8101e"/>
<circle cx="103.1" cy="98.3" r="0.65" fill="#c8101e"/>
<circle cx="90.7" cy="125.4" r="0.65" fill="#c8101e"/>
<circle cx="94.8" cy="115.7" r="0.65" fill="#c8101e"/>
<circle cx="98.1" cy="112.6" r="0.65" fill="#c8101e"/>
<circle cx="89.5" cy="124.6" r="0.65" fill="#c8101e"/>
<circle cx="89.1" cy="129.9" r="0.65" fill="#c8101e"/>
<circle cx="91.5" cy="114.5" r="0.65" fill="#c8101e"/>
<circle cx="91.4" cy="121.4" r="0.65" fill="#c8101e"/>
<circle cx="95.7" cy="102.1" r="0.65" fill="#c8101e"/>
<circle cx="91.3" cy="118.4" r="0.65" fill="#c8101e"/>
<circle cx="89.3" cy="127.0" r="0.65" fill="#c8101e"/>
<circle cx="87.0" cy="135.0" r="0.65" fill="#c8101e"/>
<circle cx="87.6" cy="132.2" r="0.65" fill="#c8101e"/>
<circle cx="86.3" cy="135.0" r="0.65" fill="#c8101e"/>
<circle cx="95.0" cy="120.7" r="0.65" fill="#c8101e"/>
<circle cx="89.0" cy="128.0" r="0.65" fill="#c8101e"/>
<circle cx="100.7" cy="88.6" r="0.65" fill="#c8101e"/>
<circle cx="86.4" cy="135.0" r="0.65" fill="#c8101e"/>
<circle cx="88.6" cy="134.0" r="0.65" fill="#c8101e"/>
<circle cx="91.7" cy="123.4" r="0.65" fill="#c8101e"/>
<circle cx="102.7" cy="105.8" r="0.65" fill="#c8101e"/>
<circle cx="92.4" cy="118.2" r="0.65" fill="#c8101e"/>
<circle cx="91.0" cy="121.2" r="0.65" fill="#c8101e"/>
<circle cx="91.0" cy="124.7" r="0.65" fill="#c8101e"/>
<circle cx="94.3" cy="104.0" r="0.65" fill="#c8101e"/>
<circle cx="97.4" cy="104.6" r="0.65" fill="#c8101e"/>
<circle cx="87.6" cy="133.8" r="0.65" fill="#c8101e"/>
<circle cx="91.6" cy="115.4" r="0.65" fill="#c8101e"/>
<circle cx="94.3" cy="118.9" r="0.65" fill="#c8101e"/>
<circle cx="90.6" cy="125.7" r="0.65" fill="#c8101e"/>
<circle cx="90.2" cy="128.1" r="0.65" fill="#c8101e"/>
<circle cx="90.7" cy="128.4" r="0.65" fill="#c8101e"/>
<circle cx="94.2" cy="114.7" r="0.65" fill="#c8101e"/>
<circle cx="87.9" cy="133.6" r="0.65" fill="#c8101e"/>
<circle cx="94.7" cy="116.7" r="0.65" fill="#c8101e"/>
<circle cx="87.4" cy="134.4" r="0.65" fill="#c8101e"/>
<circle cx="92.3" cy="122.1" r="0.65" fill="#c8101e"/>
<circle cx="87.2" cy="132.2" r="0.65" fill="#c8101e"/>
<circle cx="88.3" cy="129.2" r="0.65" fill="#c8101e"/>
<circle cx="91.5" cy="114.9" r="0.65" fill="#c8101e"/>
<circle cx="87.6" cy="130.1" r="0.65" fill="#c8101e"/>
<circle cx="88.6" cy="128.6" r="0.65" fill="#c8101e"/>
<circle cx="98.8" cy="86.9" r="0.65" fill="#c8101e"/>
<circle cx="89.0" cy="127.5" r="0.65" fill="#c8101e"/>
<circle cx="104.2" cy="82.9" r="0.65" fill="#c8101e"/>
<circle cx="88.1" cy="130.9" r="0.65" fill="#c8101e"/>
<circle cx="92.8" cy="114.5" r="0.65" fill="#c8101e"/>
<circle cx="95.5" cy="99.4" r="0.65" fill="#c8101e"/>
<circle cx="88.8" cy="127.9" r="0.65" fill="#c8101e"/>
<circle cx="100.4" cy="98.1" r="0.65" fill="#c8101e"/>
<circle cx="86.5" cy="134.0" r="0.65" fill="#c8101e"/>
<circle cx="89.1" cy="129.6" r="0.65" fill="#c8101e"/>
<circle cx="98.0" cy="104.0" r="0.65" fill="#c8101e"/>
<circle cx="89.3" cy="122.4" r="0.65" fill="#c8101e"/>
<circle cx="99.2" cy="101.4" r="0.65" fill="#c8101e"/>
<circle cx="92.5" cy="115.8" r="0.65" fill="#c8101e"/>
<circle cx="93.2" cy="117.9" r="0.65" fill="#c8101e"/>
<circle cx="87.8" cy="132.6" r="0.65" fill="#c8101e"/>
<circle cx="90.3" cy="124.7" r="0.65" fill="#c8101e"/>
<circle cx="89.5" cy="126.9" r="0.65" fill="#c8101e"/>
<circle cx="91.9" cy="118.5" r="0.65" fill="#c8101e"/>
<circle cx="89.6" cy="124.5" r="0.65" fill="#c8101e"/>
<circle cx="93.8" cy="111.3" r="0.65" fill="#c8101e"/>
<circle cx="92.9" cy="109.8" r="0.65" fill="#c8101e"/>
<circle cx="98.8" cy="92.7" r="0.65" fill="#c8101e"/>
<circle cx="91.1" cy="117.4" r="0.65" fill="#c8101e"/>
<circle cx="87.9" cy="129.1" r="0.65" fill="#c8101e"/>
<circle cx="89.4" cy="124.1" r="0.65" fill="#c8101e"/>
<circle cx="88.3" cy="131.9" r="0.65" fill="#c8101e"/>
<circle cx="93.0" cy="122.3" r="0.65" fill="#c8101e"/>
<circle cx="98.4" cy="100.5" r="0.65" fill="#c8101e"/>
<circle cx="100.1" cy="101.2" r="0.65" fill="#c8101e"/>
<circle cx="88.6" cy="131.6" r="0.65" fill="#c8101e"/>
<circle cx="90.9" cy="117.4" r="0.65" fill="#c8101e"/>
<circle cx="87.9" cy="133.0" r="0.65" fill="#c8101e"/>
<circle cx="95.6" cy="107.5" r="0.65" fill="#c8101e"/>
<circle cx="104.9" cy="83.6" r="0.65" fill="#c8101e"/>
<circle cx="96.6" cy="100.1" r="0.65" fill="#c8101e"/>
<circle cx="86.7" cy="132.6" r="0.65" fill="#c8101e"/>
<circle cx="93.0" cy="124.1" r="0.65" fill="#c8101e"/>
<circle cx="88.5" cy="129.2" r="0.65" fill="#c8101e"/>
<circle cx="103.8" cy="86.7" r="0.65" fill="#c8101e"/>
<circle cx="88.5" cy="125.8" r="0.65" fill="#c8101e"/>
<circle cx="92.2" cy="124.7" r="0.65" fill="#c8101e"/>
<circle cx="92.9" cy="118.0" r="0.65" fill="#c8101e"/>
<circle cx="86.6" cy="134.4" r="0.65" fill="#c8101e"/>
<circle cx="95.6" cy="104.4" r="0.65" fill="#c8101e"/>
<circle cx="90.9" cy="122.6" r="0.65" fill="#c8101e"/>
<circle cx="96.5" cy="119.4" r="0.65" fill="#c8101e"/>
<circle cx="93.1" cy="108.0" r="0.65" fill="#c8101e"/>
<circle cx="89.3" cy="128.5" r="0.65" fill="#c8101e"/>
<circle cx="89.0" cy="131.9" r="0.65" fill="#c8101e"/>
<circle cx="105.3" cy="86.1" r="0.65" fill="#c8101e"/>
<circle cx="88.2" cy="129.4" r="0.65" fill="#c8101e"/>
<circle cx="91.4" cy="121.7" r="0.65" fill="#c8101e"/>
<circle cx="108.3" cy="53.8" r="0.65" fill="#c8101e"/>
<circle cx="93.9" cy="107.2" r="0.65" fill="#c8101e"/>
<circle cx="88.0" cy="134.5" r="0.65" fill="#c8101e"/>
<circle cx="88.5" cy="132.8" r="0.65" fill="#c8101e"/>
<circle cx="93.7" cy="128.4" r="0.65" fill="#c8101e"/>
<circle cx="88.3" cy="130.0" r="0.65" fill="#c8101e"/>
<circle cx="92.9" cy="110.8" r="0.65" fill="#c8101e"/>
<circle cx="102.7" cy="89.6" r="0.65" fill="#c8101e"/>
<circle cx="90.5" cy="129.8" r="0.65" fill="#c8101e"/>
<circle cx="87.0" cy="131.8" r="0.65" fill="#c8101e"/>
<circle cx="87.6" cy="131.6" r="0.65" fill="#c8101e"/>
<circle cx="92.3" cy="112.2" r="0.65" fill="#c8101e"/>
<circle cx="87.7" cy="128.6" r="0.65" fill="#c8101e"/>
<circle cx="99.2" cy="101.0" r="0.65" fill="#c8101e"/>
<circle cx="96.9" cy="111.4" r="0.65" fill="#c8101e"/>
<circle cx="102.3" cy="91.4" r="0.65" fill="#c8101e"/>
<circle cx="90.9" cy="119.8" r="0.65" fill="#c8101e"/>
<circle cx="89.2" cy="129.1" r="0.65" fill="#c8101e"/>
<circle cx="89.3" cy="124.1" r="0.65" fill="#c8101e"/>
<circle cx="87.8" cy="132.8" r="0.65" fill="#c8101e"/>
<circle cx="89.0" cy="126.8" r="0.65" fill="#c8101e"/>
<circle cx="113.4" cy="78.4" r="0.65" fill="#c8101e"/>
<circle cx="92.8" cy="110.5" r="0.65" fill="#c8101e"/>
<circle cx="91.5" cy="118.9" r="0.65" fill="#c8101e"/>
<circle cx="89.8" cy="128.2" r="0.65" fill="#c8101e"/>
<circle cx="94.2" cy="117.0" r="0.65" fill="#c8101e"/>
<circle cx="90.7" cy="128.8" r="0.65" fill="#c8101e"/>
<circle cx="89.2" cy="132.2" r="0.65" fill="#c8101e"/>
<circle cx="87.4" cy="130.4" r="0.65" fill="#c8101e"/>
<circle cx="86.3" cy="135.0" r="0.65" fill="#c8101e"/>
<circle cx="88.4" cy="131.0" r="0.65" fill="#c8101e"/>
<circle cx="93.4" cy="115.4" r="0.65" fill="#c8101e"/>
<circle cx="93.5" cy="111.5" r="0.65" fill="#c8101e"/>
<circle cx="88.0" cy="130.9" r="0.65" fill="#c8101e"/>
<circle cx="90.8" cy="119.0" r="0.65" fill="#c8101e"/>
<circle cx="92.0" cy="113.1" r="0.65" fill="#c8101e"/>
<circle cx="101.1" cy="98.2" r="0.65" fill="#c8101e"/>
<circle cx="91.0" cy="117.2" r="0.65" fill="#c8101e"/>
<circle cx="87.7" cy="131.4" r="0.65" fill="#c8101e"/>
<circle cx="90.0" cy="123.8" r="0.65" fill="#c8101e"/>
<circle cx="92.7" cy="110.7" r="0.65" fill="#c8101e"/>
<circle cx="90.7" cy="127.4" r="0.65" fill="#c8101e"/>
<circle cx="95.2" cy="102.2" r="0.65" fill="#c8101e"/>
<circle cx="90.4" cy="128.6" r="0.65" fill="#c8101e"/>
<circle cx="92.6" cy="115.9" r="0.65" fill="#c8101e"/>
<circle cx="88.2" cy="128.4" r="0.65" fill="#c8101e"/>
<circle cx="93.7" cy="118.6" r="0.65" fill="#c8101e"/>
<circle cx="93.1" cy="116.5" r="0.65" fill="#c8101e"/>
<circle cx="92.2" cy="120.3" r="0.65" fill="#c8101e"/>
<circle cx="90.6" cy="131.2" r="0.65" fill="#c8101e"/>
<circle cx="88.3" cy="134.7" r="0.65" fill="#c8101e"/>
<circle cx="89.4" cy="122.7" r="0.65" fill="#c8101e"/>
<circle cx="88.0" cy="129.4" r="0.65" fill="#c8101e"/>
<circle cx="90.2" cy="131.9" r="0.65" fill="#c8101e"/>
<circle cx="88.6" cy="133.6" r="0.65" fill="#c8101e"/>
<circle cx="89.1" cy="127.3" r="0.65" fill="#c8101e"/>
<circle cx="88.2" cy="134.7" r="0.65" fill="#c8101e"/>
<circle cx="88.1" cy="130.4" r="0.65" fill="#c8101e"/>
<circle cx="94.0" cy="124.6" r="0.65" fill="#c8101e"/>
<circle cx="89.8" cy="129.7" r="0.65" fill="#c8101e"/>
<circle cx="87.1" cy="132.2" r="0.65" fill="#c8101e"/>
<circle cx="91.7" cy="115.3" r="0.65" fill="#c8101e"/>
<circle cx="92.8" cy="121.2" r="0.65" fill="#c8101e"/>
<circle cx="98.1" cy="108.6" r="0.65" fill="#c8101e"/>
<circle cx="86.9" cy="134.3" r="0.65" fill="#c8101e"/>
<circle cx="90.5" cy="122.4" r="0.65" fill="#c8101e"/>
<circle cx="94.0" cy="114.3" r="0.65" fill="#c8101e"/>
<circle cx="90.5" cy="126.8" r="0.65" fill="#c8101e"/>
<circle cx="94.2" cy="115.1" r="0.65" fill="#c8101e"/>
<circle cx="100.2" cy="88.4" r="0.65" fill="#c8101e"/>
<circle cx="97.1" cy="113.2" r="0.65" fill="#c8101e"/>
<circle cx="89.4" cy="130.4" r="0.65" fill="#c8101e"/>
<circle cx="87.9" cy="134.0" r="0.65" fill="#c8101e"/>
<circle cx="93.1" cy="109.8" r="0.65" fill="#c8101e"/>
<circle cx="92.7" cy="121.7" r="0.65" fill="#c8101e"/>
<circle cx="92.2" cy="112.0" r="0.65" fill="#c8101e"/>
<circle cx="105.8" cy="84.6" r="0.65" fill="#c8101e"/>
<circle cx="95.9" cy="124.6" r="0.65" fill="#c8101e"/>
<circle cx="90.6" cy="128.1" r="0.65" fill="#c8101e"/>
<circle cx="93.2" cy="112.6" r="0.65" fill="#c8101e"/>
<circle cx="93.3" cy="108.1" r="0.65" fill="#c8101e"/>
<circle cx="96.6" cy="116.1" r="0.65" fill="#c8101e"/>
<circle cx="97.1" cy="99.7" r="0.65" fill="#c8101e"/>
<circle cx="89.3" cy="132.2" r="0.65" fill="#c8101e"/>
<circle cx="91.9" cy="113.5" r="0.65" fill="#c8101e"/>
<circle cx="104.7" cy="77.8" r="0.65" fill="#c8101e"/>
<circle cx="89.3" cy="133.9" r="0.65" fill="#c8101e"/>
<circle cx="93.8" cy="125.1" r="0.65" fill="#c8101e"/>
<circle cx="97.4" cy="109.7" r="0.65" fill="#c8101e"/>
<circle cx="88.2" cy="127.8" r="0.65" fill="#c8101e"/>
<circle cx="95.2" cy="115.3" r="0.65" fill="#c8101e"/>
<circle cx="94.1" cy="116.8" r="0.65" fill="#c8101e"/>
<circle cx="110.9" cy="71.7" r="0.65" fill="#c8101e"/>
<circle cx="93.1" cy="122.9" r="0.65" fill="#c8101e"/>
<circle cx="90.0" cy="120.2" r="0.65" fill="#c8101e"/>
<circle cx="87.7" cy="134.2" r="0.65" fill="#c8101e"/>
<circle cx="89.8" cy="122.6" r="0.65" fill="#c8101e"/>
<circle cx="87.6" cy="134.3" r="0.65" fill="#c8101e"/>
<circle cx="92.0" cy="129.3" r="0.65" fill="#c8101e"/>
<circle cx="88.3" cy="128.7" r="0.65" fill="#c8101e"/>
<circle cx="93.4" cy="115.3" r="0.65" fill="#c8101e"/>
<circle cx="92.6" cy="120.0" r="0.65" fill="#c8101e"/>
<circle cx="89.4" cy="127.9" r="0.65" fill="#c8101e"/>
<circle cx="87.4" cy="129.7" r="0.65" fill="#c8101e"/>
<circle cx="86.7" cy="132.8" r="0.65" fill="#c8101e"/>
<circle cx="88.0" cy="132.2" r="0.65" fill="#c8101e"/>
<circle cx="109.0" cy="83.9" r="0.65" fill="#c8101e"/>
<circle cx="88.0" cy="127.2" r="0.65" fill="#c8101e"/>
<circle cx="93.2" cy="117.3" r="0.65" fill="#c8101e"/>
<circle cx="91.4" cy="123.4" r="0.65" fill="#c8101e"/>
<circle cx="89.2" cy="129.5" r="0.65" fill="#c8101e"/>
<circle cx="87.0" cy="132.3" r="0.65" fill="#c8101e"/>
<circle cx="89.8" cy="124.7" r="0.65" fill="#c8101e"/>
<circle cx="100.5" cy="109.0" r="0.65" fill="#c8101e"/>
<circle cx="89.0" cy="128.2" r="0.65" fill="#c8101e"/>
<circle cx="112.6" cy="82.5" r="0.65" fill="#c8101e"/>
<circle cx="90.0" cy="125.2" r="0.65" fill="#c8101e"/>
<circle cx="86.2" cy="135.0" r="0.65" fill="#c8101e"/>
<circle cx="102.8" cy="112.4" r="0.65" fill="#c8101e"/>
<circle cx="92.3" cy="111.0" r="0.65" fill="#c8101e"/>
<circle cx="88.0" cy="128.5" r="0.65" fill="#c8101e"/>
<circle cx="93.7" cy="123.8" r="0.65" fill="#c8101e"/>
<circle cx="89.0" cy="132.2" r="0.65" fill="#c8101e"/>
<circle cx="113.0" cy="56.4" r="0.65" fill="#c8101e"/>
<circle cx="86.9" cy="133.5" r="0.65" fill="#c8101e"/>
<circle cx="91.3" cy="125.1" r="0.65" fill="#c8101e"/>
<circle cx="88.1" cy="128.4" r="0.65" fill="#c8101e"/>
<circle cx="105.0" cy="82.0" r="0.65" fill="#c8101e"/>
<circle cx="93.4" cy="108.0" r="0.65" fill="#c8101e"/>
<circle cx="88.2" cy="130.1" r="0.65" fill="#c8101e"/>
<circle cx="87.7" cy="130.2" r="0.65" fill="#c8101e"/>
<circle cx="95.2" cy="117.6" r="0.65" fill="#c8101e"/>
<circle cx="91.9" cy="115.0" r="0.65" fill="#c8101e"/>
<circle cx="90.5" cy="121.8" r="0.65" fill="#c8101e"/>
<circle cx="86.9" cy="134.6" r="0.65" fill="#c8101e"/>
<circle cx="86.9" cy="132.8" r="0.65" fill="#c8101e"/>
<circle cx="91.4" cy="114.9" r="0.65" fill="#c8101e"/>
<circle cx="88.1" cy="127.7" r="0.65" fill="#c8101e"/>
<circle cx="91.5" cy="122.9" r="0.65" fill="#c8101e"/>
<circle cx="88.5" cy="130.9" r="0.65" fill="#c8101e"/>
<circle cx="87.9" cy="133.8" r="0.65" fill="#c8101e"/>
<circle cx="88.2" cy="133.5" r="0.65" fill="#c8101e"/>
<circle cx="102.1" cy="85.1" r="0.65" fill="#c8101e"/>
<circle cx="99.7" cy="98.6" r="0.65" fill="#c8101e"/>
<circle cx="110.8" cy="49.6" r="0.65" fill="#c8101e"/>
<circle cx="97.4" cy="98.3" r="0.65" fill="#c8101e"/>
<circle cx="109.0" cy="55.1" r="0.65" fill="#c8101e"/>
<circle cx="98.6" cy="89.6" r="0.65" fill="#c8101e"/>
<circle cx="98.1" cy="97.6" r="0.65" fill="#c8101e"/>
<circle cx="99.3" cy="91.1" r="0.65" fill="#c8101e"/>
<circle cx="111.4" cy="51.8" r="0.65" fill="#c8101e"/>
<circle cx="105.3" cy="74.0" r="0.65" fill="#c8101e"/>
<circle cx="101.2" cy="93.7" r="0.65" fill="#c8101e"/>
<circle cx="108.9" cy="53.5" r="0.65" fill="#c8101e"/>
<circle cx="108.2" cy="52.4" r="0.65" fill="#c8101e"/>
<circle cx="109.7" cy="47.2" r="0.65" fill="#c8101e"/>
<circle cx="111.5" cy="50.3" r="0.65" fill="#c8101e"/>
<circle cx="111.1" cy="49.7" r="0.65" fill="#c8101e"/>
<circle cx="97.0" cy="97.1" r="0.65" fill="#c8101e"/>
<circle cx="108.1" cy="65.0" r="0.65" fill="#c8101e"/>
<circle cx="104.1" cy="63.7" r="0.65" fill="#c8101e"/>
<circle cx="101.1" cy="82.0" r="0.65" fill="#c8101e"/>
</g>
<rect x="30.40" y="42.60" width="99.60" height="106.80" fill="none" stroke="#111" stroke-width="1.2"/>
<line x1="27.00" y1="146.00" x2="30.40" y2="146.00" stroke="#111" stroke-width="1"/>
<text x="24.90" y="148.68" font-size="7.8" text-anchor="end" fill="#111" stroke="#111" stroke-width="0.24" textLength="3.70" lengthAdjust="spacingAndGlyphs">0</text>
<line x1="27.00" y1="121.00" x2="30.40" y2="121.00" stroke="#111" stroke-width="1"/>
<text x="24.90" y="123.68" font-size="7.8" text-anchor="end" fill="#111" stroke="#111" stroke-width="0.24" textLength="3.70" lengthAdjust="spacingAndGlyphs">5</text>
<line x1="27.00" y1="96.00" x2="30.40" y2="96.00" stroke="#111" stroke-width="1"/>
<text x="24.90" y="98.68" font-size="7.8" text-anchor="end" fill="#111" stroke="#111" stroke-width="0.24" textLength="7.40" lengthAdjust="spacingAndGlyphs">10</text>
<line x1="27.00" y1="71.00" x2="30.40" y2="71.00" stroke="#111" stroke-width="1"/>
<text x="24.90" y="73.68" font-size="7.8" text-anchor="end" fill="#111" stroke="#111" stroke-width="0.24" textLength="7.40" lengthAdjust="spacingAndGlyphs">15</text>
<line x1="27.00" y1="46.00" x2="30.40" y2="46.00" stroke="#111" stroke-width="1"/>
<text x="24.90" y="48.68" font-size="7.8" text-anchor="end" fill="#111" stroke="#111" stroke-width="0.24" textLength="7.40" lengthAdjust="spacingAndGlyphs">20</text>
<line x1="42.50" y1="149.40" x2="42.50" y2="152.20" stroke="#111" stroke-width="1"/>
<text x="42.50" y="161.08" font-size="7.2" text-anchor="middle" fill="#111" stroke="#111" stroke-width="0.24">−10</text>
<line x1="61.25" y1="149.40" x2="61.25" y2="152.20" stroke="#111" stroke-width="1"/>
<text x="61.25" y="161.08" font-size="7.2" text-anchor="middle" fill="#111" stroke="#111" stroke-width="0.24">−5</text>
<line x1="80.00" y1="149.40" x2="80.00" y2="152.20" stroke="#111" stroke-width="1"/>
<text x="80.00" y="161.08" font-size="7.2" text-anchor="middle" fill="#111" stroke="#111" stroke-width="0.24">0</text>
<line x1="98.75" y1="149.40" x2="98.75" y2="152.20" stroke="#111" stroke-width="1"/>
<text x="98.75" y="161.08" font-size="7.2" text-anchor="middle" fill="#111" stroke="#111" stroke-width="0.24">5</text>
<line x1="117.50" y1="149.40" x2="117.50" y2="152.20" stroke="#111" stroke-width="1"/>
<text x="117.50" y="161.08" font-size="7.2" text-anchor="middle" fill="#111" stroke="#111" stroke-width="0.24">10</text>
<text x="80.00" y="171.20" font-size="8.6" text-anchor="middle" fill="#3a3a3a" stroke="#3a3a3a" stroke-width="0.05" textLength="59.60" lengthAdjust="spacingAndGlyphs">FoldChange(log2)</text>
<text x="11.80" y="99.20" font-size="8.6" text-anchor="middle" fill="#3a3a3a" stroke="#3a3a3a" stroke-width="0.05" textLength="43.70" lengthAdjust="spacingAndGlyphs" transform="rotate(-90 11.80 96.20)">-lg10P-value</text>
<circle cx="36.00" cy="48.00" r="1.40" fill="#16214d" />
<text x="39.40" y="50.48" font-size="7.2" text-anchor="start" fill="#111" stroke="#111" stroke-width="0.24">Down</text>
<circle cx="36.00" cy="55.30" r="1.40" fill="#c8101e" />
<text x="39.40" y="57.78" font-size="7.2" text-anchor="start" fill="#111" stroke="#111" stroke-width="0.24">Up</text>
<circle cx="36.00" cy="62.60" r="1.40" fill="#b6c8d0" />
<text x="39.40" y="65.08" font-size="7.2" text-anchor="start" fill="#111" stroke="#111" stroke-width="0.24">None</text>
<text x="148.00" y="18.20" font-size="11.8" text-anchor="start" fill="#000" stroke="#000" stroke-width="0.24" font-weight="bold">B</text>
<rect x="279.30" y="21.90" width="68.17" height="3.10" fill="#c4000c"/>
<line x1="276.20" y1="23.45" x2="279.30" y2="23.45" stroke="#222" stroke-width="0.8"/>
<text x="273.70" y="25.65" font-size="6.4" text-anchor="end" fill="#111" stroke="#111" stroke-width="0.12" textLength="51.70" lengthAdjust="spacingAndGlyphs">Response to stress</text>
<rect x="279.30" y="27.49" width="44.51" height="3.10" fill="#c4000c"/>
<line x1="276.20" y1="29.04" x2="279.30" y2="29.04" stroke="#222" stroke-width="0.8"/>
<text x="270.40" y="31.24" font-size="6.4" text-anchor="end" fill="#111" stroke="#111" stroke-width="0.12" textLength="97.40" lengthAdjust="spacingAndGlyphs">Regulation of protein kinase activity</text>
<rect x="279.30" y="33.08" width="37.49" height="3.10" fill="#c4000c"/>
<line x1="276.20" y1="34.63" x2="279.30" y2="34.63" stroke="#222" stroke-width="0.8"/>
<text x="273.70" y="36.83" font-size="6.4" text-anchor="end" fill="#111" stroke="#111" stroke-width="0.12" textLength="79.30" lengthAdjust="spacingAndGlyphs">Myeloid leukocyte activation</text>
<rect x="279.30" y="38.67" width="34.49" height="3.10" fill="#c4000c"/>
<line x1="276.20" y1="40.22" x2="279.30" y2="40.22" stroke="#222" stroke-width="0.8"/>
<text x="273.70" y="42.42" font-size="6.4" text-anchor="end" fill="#111" stroke="#111" stroke-width="0.12" textLength="65.70" lengthAdjust="spacingAndGlyphs">Regulation of cell death</text>
<rect x="279.30" y="44.26" width="33.88" height="3.10" fill="#c4000c"/>
<line x1="276.20" y1="45.81" x2="279.30" y2="45.81" stroke="#222" stroke-width="0.8"/>
<text x="273.70" y="48.01" font-size="6.4" text-anchor="end" fill="#111" stroke="#111" stroke-width="0.12" textLength="80.70" lengthAdjust="spacingAndGlyphs">Regulation of MAPK cascade</text>
<rect x="279.30" y="49.85" width="32.68" height="3.10" fill="#c4000c"/>
<line x1="276.20" y1="51.40" x2="279.30" y2="51.40" stroke="#222" stroke-width="0.8"/>
<text x="273.70" y="53.60" font-size="6.4" text-anchor="end" fill="#111" stroke="#111" stroke-width="0.12" textLength="88.70" lengthAdjust="spacingAndGlyphs">Regulation of apoptotic process</text>
<rect x="279.30" y="55.44" width="32.28" height="3.10" fill="#c4000c"/>
<line x1="276.20" y1="56.99" x2="279.30" y2="56.99" stroke="#222" stroke-width="0.8"/>
<text x="273.70" y="59.19" font-size="6.4" text-anchor="end" fill="#111" stroke="#111" stroke-width="0.12" textLength="104.10" lengthAdjust="spacingAndGlyphs">Regulation of programmed cell death</text>
<rect x="279.30" y="61.03" width="27.67" height="3.10" fill="#c4000c"/>
<line x1="276.20" y1="62.58" x2="279.30" y2="62.58" stroke="#222" stroke-width="0.8"/>
<text x="273.70" y="64.78" font-size="6.4" text-anchor="end" fill="#111" stroke="#111" stroke-width="0.12" textLength="62.70" lengthAdjust="spacingAndGlyphs">Granulocyte activation</text>
<rect x="279.30" y="66.62" width="22.26" height="3.10" fill="#c4000c"/>
<line x1="276.20" y1="68.17" x2="279.30" y2="68.17" stroke="#222" stroke-width="0.8"/>
<text x="273.70" y="70.37" font-size="6.4" text-anchor="end" fill="#111" stroke="#111" stroke-width="0.12" textLength="134.00" lengthAdjust="spacingAndGlyphs">Positive regulation of myeloid cell differentiation</text>
<rect x="279.30" y="72.21" width="18.65" height="3.10" fill="#c4000c"/>
<line x1="276.20" y1="73.76" x2="279.30" y2="73.76" stroke="#222" stroke-width="0.8"/>
<text x="273.70" y="75.96" font-size="6.4" text-anchor="end" fill="#111" stroke="#111" stroke-width="0.12" textLength="135.70" lengthAdjust="spacingAndGlyphs">Negative regulation of cellular metabolic process</text>
<rect x="279.30" y="77.80" width="18.65" height="3.10" fill="#c4000c"/>
<line x1="276.20" y1="79.35" x2="279.30" y2="79.35" stroke="#222" stroke-width="0.8"/>
<text x="273.70" y="81.55" font-size="6.4" text-anchor="end" fill="#111" stroke="#111" stroke-width="0.12" textLength="58.10" lengthAdjust="spacingAndGlyphs">Regulation of growth</text>
<rect x="279.30" y="83.39" width="16.84" height="3.10" fill="#c4000c"/>
<line x1="276.20" y1="84.94" x2="279.30" y2="84.94" stroke="#222" stroke-width="0.8"/>
<text x="273.70" y="87.14" font-size="6.4" text-anchor="end" fill="#111" stroke="#111" stroke-width="0.12" textLength="133.30" lengthAdjust="spacingAndGlyphs">Hematopoietic or lymphoid organ development</text>
<line x1="279.30" y1="18.00" x2="279.30" y2="89.70" stroke="#111" stroke-width="1.3"/>
<line x1="278.70" y1="86.90" x2="359.60" y2="86.90" stroke="#111" stroke-width="1.3"/>
<line x1="279.30" y1="86.90" x2="279.30" y2="89.70" stroke="#111" stroke-width="1"/>
<text x="279.30" y="97.75" font-size="7.4" text-anchor="middle" fill="#111" stroke="#111" stroke-width="0.12">0</text>
<line x1="299.35" y1="86.90" x2="299.35" y2="89.70" stroke="#111" stroke-width="1"/>
<text x="299.35" y="97.75" font-size="7.4" text-anchor="middle" fill="#111" stroke="#111" stroke-width="0.12">5</text>
<line x1="319.40" y1="86.90" x2="319.40" y2="89.70" stroke="#111" stroke-width="1"/>
<text x="319.40" y="97.75" font-size="7.4" text-anchor="middle" fill="#111" stroke="#111" stroke-width="0.12">10</text>
<line x1="339.45" y1="86.90" x2="339.45" y2="89.70" stroke="#111" stroke-width="1"/>
<text x="339.45" y="97.75" font-size="7.4" text-anchor="middle" fill="#111" stroke="#111" stroke-width="0.12">15</text>
<line x1="359.50" y1="86.90" x2="359.50" y2="89.70" stroke="#111" stroke-width="1"/>
<text x="359.50" y="97.75" font-size="7.4" text-anchor="middle" fill="#111" stroke="#111" stroke-width="0.12">20</text>
<rect x="279.30" y="105.85" width="55.37" height="3.20" fill="#0b2ea8"/>
<line x1="276.20" y1="107.45" x2="279.30" y2="107.45" stroke="#222" stroke-width="0.8"/>
<text x="273.70" y="110.05" font-size="6.4" text-anchor="end" fill="#111" stroke="#111" stroke-width="0.12" textLength="43.70" lengthAdjust="spacingAndGlyphs">DNA replication</text>
<rect x="279.30" y="111.85" width="35.84" height="3.20" fill="#0b2ea8"/>
<line x1="276.20" y1="113.45" x2="279.30" y2="113.45" stroke="#222" stroke-width="0.8"/>
<text x="273.70" y="116.05" font-size="6.4" text-anchor="end" fill="#111" stroke="#111" stroke-width="0.12" textLength="87.10" lengthAdjust="spacingAndGlyphs">Cell cycle G1/S phase transition</text>
<rect x="279.30" y="117.85" width="34.77" height="3.20" fill="#0b2ea8"/>
<line x1="276.20" y1="119.45" x2="279.30" y2="119.45" stroke="#222" stroke-width="0.8"/>
<text x="273.70" y="122.05" font-size="6.4" text-anchor="end" fill="#111" stroke="#111" stroke-width="0.12" textLength="62.70" lengthAdjust="spacingAndGlyphs">Regulation of cell cycle</text>
<rect x="279.30" y="123.85" width="29.16" height="3.20" fill="#0b2ea8"/>
<line x1="276.20" y1="125.45" x2="279.30" y2="125.45" stroke="#222" stroke-width="0.8"/>
<text x="273.70" y="128.05" font-size="6.4" text-anchor="end" fill="#111" stroke="#111" stroke-width="0.12" textLength="69.70" lengthAdjust="spacingAndGlyphs">DNA replication initiation</text>
<rect x="279.30" y="129.85" width="28.35" height="3.20" fill="#0b2ea8"/>
<line x1="276.20" y1="131.45" x2="279.30" y2="131.45" stroke="#222" stroke-width="0.8"/>
<text x="273.70" y="134.05" font-size="6.4" text-anchor="end" fill="#111" stroke="#111" stroke-width="0.12" textLength="30.70" lengthAdjust="spacingAndGlyphs">DNA repair</text>
<rect x="279.30" y="135.85" width="26.21" height="3.20" fill="#0b2ea8"/>
<line x1="276.20" y1="137.45" x2="279.30" y2="137.45" stroke="#222" stroke-width="0.8"/>
<text x="273.70" y="140.05" font-size="6.4" text-anchor="end" fill="#111" stroke="#111" stroke-width="0.12" textLength="104.70" lengthAdjust="spacingAndGlyphs">DNA synthesis involved in DNA repair</text>
<rect x="279.30" y="141.85" width="24.34" height="3.20" fill="#0b2ea8"/>
<line x1="276.20" y1="143.45" x2="279.30" y2="143.45" stroke="#222" stroke-width="0.8"/>
<text x="273.70" y="146.05" font-size="6.4" text-anchor="end" fill="#111" stroke="#111" stroke-width="0.12" textLength="54.70" lengthAdjust="spacingAndGlyphs">DNA recombination</text>
<rect x="279.30" y="147.85" width="23.54" height="3.20" fill="#0b2ea8"/>
<line x1="276.20" y1="149.45" x2="279.30" y2="149.45" stroke="#222" stroke-width="0.8"/>
<text x="273.70" y="152.05" font-size="6.4" text-anchor="end" fill="#111" stroke="#111" stroke-width="0.12" textLength="119.30" lengthAdjust="spacingAndGlyphs">Cellular response to DNA damage stimulus</text>
<rect x="279.30" y="153.85" width="21.93" height="3.20" fill="#0b2ea8"/>
<line x1="276.20" y1="155.45" x2="279.30" y2="155.45" stroke="#222" stroke-width="0.8"/>
<text x="273.70" y="158.05" font-size="6.4" text-anchor="end" fill="#111" stroke="#111" stroke-width="0.12" textLength="45.70" lengthAdjust="spacingAndGlyphs">Cell proliferation</text>
<rect x="279.30" y="159.85" width="19.26" height="3.20" fill="#0b2ea8"/>
<line x1="276.20" y1="161.45" x2="279.30" y2="161.45" stroke="#222" stroke-width="0.8"/>
<text x="273.70" y="164.05" font-size="6.4" text-anchor="end" fill="#111" stroke="#111" stroke-width="0.12" textLength="63.70" lengthAdjust="spacingAndGlyphs">DNA strand elongation</text>
<rect x="279.30" y="165.85" width="18.99" height="3.20" fill="#0b2ea8"/>
<line x1="276.20" y1="167.45" x2="279.30" y2="167.45" stroke="#222" stroke-width="0.8"/>
<text x="273.70" y="170.05" font-size="6.4" text-anchor="end" fill="#111" stroke="#111" stroke-width="0.12" textLength="74.10" lengthAdjust="spacingAndGlyphs">Double-strand break repair</text>
<line x1="279.30" y1="104.40" x2="279.30" y2="172.70" stroke="#111" stroke-width="1.3"/>
<line x1="278.70" y1="169.60" x2="358.40" y2="169.60" stroke="#111" stroke-width="1.3"/>
<line x1="279.40" y1="169.60" x2="279.40" y2="172.70" stroke="#111" stroke-width="1"/>
<text x="279.40" y="180.05" font-size="7.4" text-anchor="middle" fill="#111" stroke="#111" stroke-width="0.12">0</text>
<line x1="306.50" y1="169.60" x2="306.50" y2="172.70" stroke="#111" stroke-width="1"/>
<text x="306.50" y="180.05" font-size="7.4" text-anchor="middle" fill="#111" stroke="#111" stroke-width="0.12">5</text>
<line x1="333.40" y1="169.60" x2="333.40" y2="172.70" stroke="#111" stroke-width="1"/>
<text x="333.40" y="180.05" font-size="7.4" text-anchor="middle" fill="#111" stroke="#111" stroke-width="0.12">10</text>
<line x1="357.90" y1="169.60" x2="357.90" y2="172.70" stroke="#111" stroke-width="1"/>
<text x="357.90" y="180.05" font-size="7.4" text-anchor="middle" fill="#111" stroke="#111" stroke-width="0.12">15</text>
<text x="375.50" y="14.60" font-size="11.8" text-anchor="start" fill="#000" stroke="#000" stroke-width="0.24" font-weight="bold">C</text>
<text x="395.10" y="15.00" font-size="9.0" text-anchor="start" fill="#111" stroke="#111" stroke-width="0.24" textLength="118.00" lengthAdjust="spacingAndGlyphs">GO_DNA_DAMAGE_RESPONSE</text>
<line x1="402.40" y1="22.40" x2="503.40" y2="22.40" stroke="#c4d2dc" stroke-width="0.9"/>
<line x1="402.40" y1="61.50" x2="503.40" y2="61.50" stroke="#c4d2dc" stroke-width="0.9"/>
<line x1="408.50" y1="62.00" x2="408.50" y2="75.10" stroke="#8a9696" stroke-width="0.7"/>
<line x1="410.00" y1="62.00" x2="410.00" y2="75.10" stroke="#8a9696" stroke-width="0.7"/>
<line x1="419.00" y1="62.00" x2="419.00" y2="75.10" stroke="#8a9696" stroke-width="0.7"/>
<line x1="429.30" y1="62.00" x2="429.30" y2="75.10" stroke="#8a9696" stroke-width="0.7"/>
<line x1="433.50" y1="62.00" x2="433.50" y2="75.10" stroke="#9aa6a6" stroke-width="0.6"/>
<line x1="446.50" y1="62.00" x2="446.50" y2="75.10" stroke="#8a9696" stroke-width="0.7"/>
<line x1="471.60" y1="62.00" x2="471.60" y2="75.10" stroke="#9aa0a0" stroke-width="0.6"/>
<line x1="472.40" y1="62.00" x2="472.40" y2="75.10" stroke="#9aa0a0" stroke-width="0.6"/>
<line x1="473.30" y1="62.00" x2="473.30" y2="75.10" stroke="#9aa0a0" stroke-width="0.6"/>
<line x1="476.00" y1="62.00" x2="476.00" y2="75.10" stroke="#9aa0a0" stroke-width="0.6"/>
<line x1="477.20" y1="62.00" x2="477.20" y2="75.10" stroke="#9aa0a0" stroke-width="0.6"/>
<line x1="479.50" y1="62.00" x2="479.50" y2="75.10" stroke="#9aa0a0" stroke-width="0.6"/>
<line x1="480.40" y1="62.00" x2="480.40" y2="75.10" stroke="#9aa0a0" stroke-width="0.6"/>
<line x1="482.00" y1="62.00" x2="482.00" y2="75.10" stroke="#9aa0a0" stroke-width="0.6"/>
<line x1="484.50" y1="62.00" x2="484.50" y2="75.10" stroke="#9aa0a0" stroke-width="0.6"/>
<line x1="485.30" y1="62.00" x2="485.30" y2="75.10" stroke="#9aa0a0" stroke-width="0.6"/>
<line x1="487.00" y1="62.00" x2="487.00" y2="75.10" stroke="#9aa0a0" stroke-width="0.6"/>
<line x1="488.40" y1="62.00" x2="488.40" y2="75.10" stroke="#9aa0a0" stroke-width="0.6"/>
<line x1="489.60" y1="62.00" x2="489.60" y2="75.10" stroke="#9aa0a0" stroke-width="0.6"/>
<line x1="491.50" y1="62.00" x2="491.50" y2="75.10" stroke="#111" stroke-width="1.0"/>
<line x1="492.60" y1="62.00" x2="492.60" y2="75.10" stroke="#555" stroke-width="0.6"/>
<line x1="494.30" y1="62.00" x2="494.30" y2="75.10" stroke="#777" stroke-width="0.8"/>
<line x1="495.30" y1="62.00" x2="495.30" y2="75.10" stroke="#666" stroke-width="0.8"/>
<line x1="496.30" y1="62.00" x2="496.30" y2="75.10" stroke="#888" stroke-width="0.8"/>
<line x1="497.30" y1="62.00" x2="497.30" y2="75.10" stroke="#888" stroke-width="0.6"/>
<rect x="402.40" y="75.10" width="7.60" height="3.40" fill="#ee1030"/>
<rect x="410.00" y="75.10" width="10.00" height="3.40" fill="#e81848"/>
<rect x="420.00" y="75.10" width="4.00" height="3.40" fill="#f04888"/>
<rect x="424.00" y="75.10" width="4.00" height="3.40" fill="#f470b0"/>
<rect x="428.00" y="75.10" width="43.00" height="3.40" fill="#f6b0ee"/>
<rect x="471.00" y="75.10" width="19.00" height="3.40" fill="#d8d8f8"/>
<rect x="490.00" y="75.10" width="8.50" height="3.40" fill="#1818e8"/>
<path d="M402.4,22.4 L405.0,24.0 L408.0,25.6 L410.0,24.2 L411.8,23.2 L414.0,24.0 L416.0,25.0 L418.0,26.0 L420.0,25.6 L430.0,30.5 L445.0,37.6 L460.0,45.0 L475.0,52.5 L482.0,55.5 L486.0,58.4 L488.0,58.8 L489.6,59.4 L491.0,56.0 L492.0,50.0 L493.0,42.0 L494.5,34.0 L496.0,28.0 L497.5,22.0 L498.2,20.0" stroke="#36ec10" stroke-width="1.6" fill="none" stroke-linejoin="round"/>
<rect x="402.40" y="20.00" width="101.00" height="58.50" fill="none" stroke="#111" stroke-width="1.2"/>
<line x1="398.80" y1="22.40" x2="402.40" y2="22.40" stroke="#111" stroke-width="1"/>
<text x="396.60" y="24.74" font-size="6.8" text-anchor="end" fill="#444" stroke="#444" stroke-width="0.05">0.0</text>
<line x1="398.80" y1="27.45" x2="402.40" y2="27.45" stroke="#111" stroke-width="1"/>
<text x="396.60" y="29.79" font-size="6.8" text-anchor="end" fill="#444" stroke="#444" stroke-width="0.05">-0.1</text>
<line x1="398.80" y1="32.50" x2="402.40" y2="32.50" stroke="#111" stroke-width="1"/>
<text x="396.60" y="34.84" font-size="6.8" text-anchor="end" fill="#444" stroke="#444" stroke-width="0.05">-0.2</text>
<line x1="398.80" y1="37.55" x2="402.40" y2="37.55" stroke="#111" stroke-width="1"/>
<text x="396.60" y="39.89" font-size="6.8" text-anchor="end" fill="#444" stroke="#444" stroke-width="0.05">-0.3</text>
<line x1="398.80" y1="42.60" x2="402.40" y2="42.60" stroke="#111" stroke-width="1"/>
<text x="396.60" y="44.94" font-size="6.8" text-anchor="end" fill="#444" stroke="#444" stroke-width="0.05">-0.4</text>
<line x1="398.80" y1="47.65" x2="402.40" y2="47.65" stroke="#111" stroke-width="1"/>
<text x="396.60" y="49.99" font-size="6.8" text-anchor="end" fill="#444" stroke="#444" stroke-width="0.05">-0.5</text>
<line x1="398.80" y1="52.70" x2="402.40" y2="52.70" stroke="#111" stroke-width="1"/>
<text x="396.60" y="55.04" font-size="6.8" text-anchor="end" fill="#444" stroke="#444" stroke-width="0.05">-0.6</text>
<line x1="398.80" y1="57.75" x2="402.40" y2="57.75" stroke="#111" stroke-width="1"/>
<text x="396.60" y="60.09" font-size="6.8" text-anchor="end" fill="#444" stroke="#444" stroke-width="0.05">-0.7</text>
<text x="376.30" y="52.60" font-size="9.2" text-anchor="middle" fill="#333" stroke="#333" stroke-width="0.05" textLength="57.40" lengthAdjust="spacingAndGlyphs" transform="rotate(-90 376.30 49.60)">Enrichment score</text>
<text x="396.00" y="88.50" font-size="8.8" text-anchor="start" fill="#2a2a2a" stroke="#2a2a2a" stroke-width="0.08" textLength="108.60" lengthAdjust="spacingAndGlyphs">‘GADD45g’ (positively correlated)</text>
<text x="460.60" y="27.50" font-size="7.6" text-anchor="start" fill="#111" stroke="#111" stroke-width="0.24" textLength="35.00" lengthAdjust="spacingAndGlyphs">NES=−1.7</text>
<text x="460.60" y="36.50" font-size="7.6" text-anchor="start" fill="#111" stroke="#111" stroke-width="0.24" textLength="29.50" lengthAdjust="spacingAndGlyphs">p=0.000</text>
<text x="457.30" y="105.60" font-size="9.0" text-anchor="middle" fill="#111" stroke="#111" stroke-width="0.24" textLength="88.40" lengthAdjust="spacingAndGlyphs">KEGG_HOMOLOGOUS_</text>
<text x="457.40" y="115.10" font-size="9.0" text-anchor="middle" fill="#111" stroke="#111" stroke-width="0.24" textLength="66.20" lengthAdjust="spacingAndGlyphs">RECOMBINATION</text>
<line x1="402.40" y1="121.30" x2="503.40" y2="121.30" stroke="#c4d2dc" stroke-width="0.9"/>
<line x1="402.40" y1="160.40" x2="503.40" y2="160.40" stroke="#c4d2dc" stroke-width="0.9"/>
<line x1="405.50" y1="160.90" x2="405.50" y2="175.10" stroke="#8a9696" stroke-width="0.7"/>
<line x1="408.30" y1="160.90" x2="408.30" y2="175.10" stroke="#8a9696" stroke-width="0.7"/>
<line x1="411.00" y1="160.90" x2="411.00" y2="175.10" stroke="#8a9696" stroke-width="0.7"/>
<line x1="416.20" y1="160.90" x2="416.20" y2="175.10" stroke="#8a9696" stroke-width="0.7"/>
<line x1="429.00" y1="160.90" x2="429.00" y2="175.10" stroke="#777" stroke-width="0.8"/>
<line x1="430.40" y1="160.90" x2="430.40" y2="175.10" stroke="#777" stroke-width="0.8"/>
<line x1="433.00" y1="160.90" x2="433.00" y2="175.10" stroke="#8a9696" stroke-width="0.7"/>
<line x1="472.00" y1="160.90" x2="472.00" y2="175.10" stroke="#9aa0a0" stroke-width="0.7"/>
<line x1="484.20" y1="160.90" x2="484.20" y2="175.10" stroke="#777" stroke-width="0.7"/>
<line x1="485.00" y1="160.90" x2="485.00" y2="175.10" stroke="#777" stroke-width="0.7"/>
<line x1="486.00" y1="160.90" x2="486.00" y2="175.10" stroke="#777" stroke-width="0.7"/>
<line x1="486.80" y1="160.90" x2="486.80" y2="175.10" stroke="#777" stroke-width="0.7"/>
<line x1="487.60" y1="160.90" x2="487.60" y2="175.10" stroke="#777" stroke-width="0.7"/>
<line x1="488.60" y1="160.90" x2="488.60" y2="175.10" stroke="#777" stroke-width="0.7"/>
<line x1="489.40" y1="160.90" x2="489.40" y2="175.10" stroke="#777" stroke-width="0.7"/>
<line x1="490.30" y1="160.90" x2="490.30" y2="175.10" stroke="#777" stroke-width="0.7"/>
<line x1="491.00" y1="160.90" x2="491.00" y2="175.10" stroke="#777" stroke-width="0.7"/>
<line x1="492.50" y1="160.90" x2="492.50" y2="175.10" stroke="#444" stroke-width="0.8"/>
<line x1="494.00" y1="160.90" x2="494.00" y2="175.10" stroke="#666" stroke-width="0.8"/>
<line x1="495.60" y1="160.90" x2="495.60" y2="175.10" stroke="#444" stroke-width="0.9"/>
<line x1="497.00" y1="160.90" x2="497.00" y2="175.10" stroke="#777" stroke-width="0.7"/>
<rect x="402.40" y="175.10" width="9.60" height="3.40" fill="#ee1030"/>
<rect x="412.00" y="175.10" width="8.00" height="3.40" fill="#e81848"/>
<rect x="420.00" y="175.10" width="8.00" height="3.40" fill="#f070b8"/>
<rect x="428.00" y="175.10" width="43.00" height="3.40" fill="#f6b0ee"/>
<rect x="471.00" y="175.10" width="19.00" height="3.40" fill="#d8d8f8"/>
<rect x="490.00" y="175.10" width="8.50" height="3.40" fill="#1818e8"/>
<path d="M402.4,121.3 L404.0,121.9 L405.5,123.1 L407.0,122.1 L408.5,122.9 L410.0,122.2 L411.5,123.2 L413.0,122.5 L416.0,123.9 L420.0,125.4 L430.0,130.7 L450.0,141.3 L470.0,151.9 L480.0,157.2 L483.0,158.7 L485.0,158.5 L487.0,154.4 L489.0,150.9 L490.5,149.4 L491.5,146.4 L493.0,145.4 L493.6,139.4 L495.5,138.7 L495.8,130.9 L496.8,123.9 L497.4,119.2" stroke="#36ec10" stroke-width="1.6" fill="none" stroke-linejoin="round"/>
<rect x="402.40" y="118.90" width="101.00" height="59.60" fill="none" stroke="#111" stroke-width="1.2"/>
<line x1="398.80" y1="121.30" x2="402.40" y2="121.30" stroke="#111" stroke-width="1"/>
<text x="396.60" y="123.64" font-size="6.8" text-anchor="end" fill="#444" stroke="#444" stroke-width="0.05">0.0</text>
<line x1="398.80" y1="126.35" x2="402.40" y2="126.35" stroke="#111" stroke-width="1"/>
<text x="396.60" y="128.69" font-size="6.8" text-anchor="end" fill="#444" stroke="#444" stroke-width="0.05">-0.1</text>
<line x1="398.80" y1="131.40" x2="402.40" y2="131.40" stroke="#111" stroke-width="1"/>
<text x="396.60" y="133.74" font-size="6.8" text-anchor="end" fill="#444" stroke="#444" stroke-width="0.05">-0.2</text>
<line x1="398.80" y1="136.45" x2="402.40" y2="136.45" stroke="#111" stroke-width="1"/>
<text x="396.60" y="138.79" font-size="6.8" text-anchor="end" fill="#444" stroke="#444" stroke-width="0.05">-0.3</text>
<line x1="398.80" y1="141.50" x2="402.40" y2="141.50" stroke="#111" stroke-width="1"/>
<text x="396.60" y="143.84" font-size="6.8" text-anchor="end" fill="#444" stroke="#444" stroke-width="0.05">-0.4</text>
<line x1="398.80" y1="146.55" x2="402.40" y2="146.55" stroke="#111" stroke-width="1"/>
<text x="396.60" y="148.89" font-size="6.8" text-anchor="end" fill="#444" stroke="#444" stroke-width="0.05">-0.5</text>
<line x1="398.80" y1="151.60" x2="402.40" y2="151.60" stroke="#111" stroke-width="1"/>
<text x="396.60" y="153.94" font-size="6.8" text-anchor="end" fill="#444" stroke="#444" stroke-width="0.05">-0.6</text>
<line x1="398.80" y1="156.65" x2="402.40" y2="156.65" stroke="#111" stroke-width="1"/>
<text x="396.60" y="158.99" font-size="6.8" text-anchor="end" fill="#444" stroke="#444" stroke-width="0.05">-0.7</text>
<text x="376.30" y="151.50" font-size="9.2" text-anchor="middle" fill="#333" stroke="#333" stroke-width="0.05" textLength="57.40" lengthAdjust="spacingAndGlyphs" transform="rotate(-90 376.30 148.50)">Enrichment score</text>
<text x="396.00" y="189.00" font-size="8.8" text-anchor="start" fill="#2a2a2a" stroke="#2a2a2a" stroke-width="0.08" textLength="108.60" lengthAdjust="spacingAndGlyphs">‘GADD45g’ (positively correlated)</text>
<text x="460.60" y="127.24" font-size="7.6" text-anchor="start" fill="#111" stroke="#111" stroke-width="0.24" textLength="39.00" lengthAdjust="spacingAndGlyphs">NES=−1.66</text>
<text x="460.60" y="136.60" font-size="7.6" text-anchor="start" fill="#111" stroke="#111" stroke-width="0.24" textLength="29.50" lengthAdjust="spacingAndGlyphs">p=0.000</text>
<text x="9.00" y="202.60" font-size="11.8" text-anchor="start" fill="#000" stroke="#000" stroke-width="0.24" font-weight="bold">D</text>
<rect x="43.00" y="232.40" width="5.95" height="47.00" fill="#0b1640"/>
<rect x="48.90" y="261.07" width="5.95" height="18.33" fill="#d0021b"/>
<line x1="51.85" y1="261.07" x2="51.85" y2="251.67" stroke="#222" stroke-width="1.0"/>
<path d="M50.25,251.27 H53.45 L51.85,252.87 Z" stroke="#222" stroke-width="0.5" fill="#222" />
<rect x="54.80" y="262.48" width="5.95" height="16.92" fill="#2ee82e"/>
<line x1="57.75" y1="262.48" x2="57.75" y2="257.31" stroke="#222" stroke-width="1.0"/>
<path d="M56.15,256.91 H59.35 L57.75,258.51 Z" stroke="#222" stroke-width="0.5" fill="#222" />
<rect x="60.70" y="253.08" width="5.95" height="26.32" fill="#8c8cf8"/>
<line x1="63.65" y1="253.08" x2="63.65" y2="247.44" stroke="#222" stroke-width="1.0"/>
<path d="M62.05,247.04 H65.25 L63.65,248.64 Z" stroke="#222" stroke-width="0.5" fill="#222" />
<rect x="66.60" y="256.84" width="5.95" height="22.56" fill="#ff7f0e"/>
<line x1="69.55" y1="256.84" x2="69.55" y2="250.26" stroke="#222" stroke-width="1.0"/>
<path d="M67.95,249.86 H71.15 L69.55,251.46 Z" stroke="#222" stroke-width="0.5" fill="#222" />
<rect x="78.20" y="232.40" width="5.95" height="47.00" fill="#0b1640"/>
<rect x="84.10" y="252.61" width="5.95" height="26.79" fill="#d0021b"/>
<line x1="87.05" y1="252.61" x2="87.05" y2="246.03" stroke="#222" stroke-width="1.0"/>
<path d="M85.45,245.63 H88.65 L87.05,247.23 Z" stroke="#222" stroke-width="0.5" fill="#222" />
<rect x="90.00" y="258.01" width="5.95" height="21.38" fill="#2ee82e"/>
<line x1="92.95" y1="258.01" x2="92.95" y2="255.43" stroke="#222" stroke-width="1.0"/>
<path d="M91.35,255.03 H94.55 L92.95,256.63 Z" stroke="#222" stroke-width="0.5" fill="#222" />
<rect x="95.90" y="247.91" width="5.95" height="31.49" fill="#8c8cf8"/>
<line x1="98.85" y1="247.91" x2="98.85" y2="241.33" stroke="#222" stroke-width="1.0"/>
<path d="M97.25,240.93 H100.45 L98.85,242.53 Z" stroke="#222" stroke-width="0.5" fill="#222" />
<rect x="101.80" y="270.00" width="5.95" height="9.40" fill="#ff7f0e"/>
<line x1="104.75" y1="270.00" x2="104.75" y2="267.65" stroke="#222" stroke-width="1.0"/>
<path d="M103.15,267.25 H106.35 L104.75,268.85 Z" stroke="#222" stroke-width="0.5" fill="#222" />
<rect x="113.90" y="232.40" width="5.95" height="47.00" fill="#0b1640"/>
<rect x="119.80" y="251.20" width="5.95" height="28.20" fill="#d0021b"/>
<line x1="122.75" y1="251.20" x2="122.75" y2="245.79" stroke="#222" stroke-width="1.0"/>
<path d="M121.15,245.39 H124.35 L122.75,246.99 Z" stroke="#222" stroke-width="0.5" fill="#222" />
<rect x="125.70" y="251.67" width="5.95" height="27.73" fill="#2ee82e"/>
<line x1="128.65" y1="251.67" x2="128.65" y2="247.91" stroke="#222" stroke-width="1.0"/>
<path d="M127.05,247.51 H130.25 L128.65,249.11 Z" stroke="#222" stroke-width="0.5" fill="#222" />
<rect x="131.60" y="250.26" width="5.95" height="29.14" fill="#8c8cf8"/>
<line x1="134.55" y1="250.26" x2="134.55" y2="241.80" stroke="#222" stroke-width="1.0"/>
<path d="M132.95,241.40 H136.15 L134.55,243.00 Z" stroke="#222" stroke-width="0.5" fill="#222" />
<rect x="137.50" y="257.78" width="5.95" height="21.62" fill="#ff7f0e"/>
<line x1="140.45" y1="257.78" x2="140.45" y2="246.03" stroke="#222" stroke-width="1.0"/>
<path d="M138.85,245.63 H142.05 L140.45,247.23 Z" stroke="#222" stroke-width="0.5" fill="#222" />
<line x1="39.80" y1="209.30" x2="39.80" y2="279.90" stroke="#222" stroke-width="1.1"/>
<line x1="39.30" y1="279.40" x2="146.40" y2="279.40" stroke="#222" stroke-width="1.1"/>
<line x1="36.30" y1="208.90" x2="39.80" y2="208.90" stroke="#222" stroke-width="1"/>
<text x="33.60" y="211.65" font-size="8.0" text-anchor="end" fill="#111" stroke="#111" stroke-width="0.24" textLength="10.00" lengthAdjust="spacingAndGlyphs">1.5</text>
<line x1="36.30" y1="232.40" x2="39.80" y2="232.40" stroke="#222" stroke-width="1"/>
<text x="33.60" y="235.15" font-size="8.0" text-anchor="end" fill="#111" stroke="#111" stroke-width="0.24" textLength="10.00" lengthAdjust="spacingAndGlyphs">1.0</text>
<line x1="36.30" y1="255.90" x2="39.80" y2="255.90" stroke="#222" stroke-width="1"/>
<text x="33.60" y="258.65" font-size="8.0" text-anchor="end" fill="#111" stroke="#111" stroke-width="0.24" textLength="10.00" lengthAdjust="spacingAndGlyphs">0.5</text>
<line x1="36.30" y1="279.40" x2="39.80" y2="279.40" stroke="#222" stroke-width="1"/>
<text x="33.60" y="282.15" font-size="8.0" text-anchor="end" fill="#111" stroke="#111" stroke-width="0.24" textLength="10.00" lengthAdjust="spacingAndGlyphs">0.0</text>
<line x1="57.30" y1="279.40" x2="57.30" y2="282.00" stroke="#222" stroke-width="1"/>
<text x="57.30" y="291.55" font-size="7.4" text-anchor="middle" fill="#111" stroke="#111" stroke-width="0.24" textLength="24.50" lengthAdjust="spacingAndGlyphs">RAD51</text>
<line x1="92.60" y1="279.40" x2="92.60" y2="282.00" stroke="#222" stroke-width="1"/>
<text x="92.60" y="291.55" font-size="7.4" text-anchor="middle" fill="#111" stroke="#111" stroke-width="0.24" textLength="24.50" lengthAdjust="spacingAndGlyphs">BRCA1</text>
<line x1="128.20" y1="279.40" x2="128.20" y2="282.00" stroke="#222" stroke-width="1"/>
<text x="128.20" y="291.55" font-size="7.4" text-anchor="middle" fill="#111" stroke="#111" stroke-width="0.24" textLength="24.50" lengthAdjust="spacingAndGlyphs">BRCA2</text>
<text x="15.00" y="246.80" font-size="8.4" text-anchor="middle" fill="#2a2a2a" stroke="#2a2a2a" stroke-width="0.08" textLength="64.50" lengthAdjust="spacingAndGlyphs" transform="rotate(-90 15.00 243.80)">Relative expression</text>
<line x1="45.50" y1="217.00" x2="45.50" y2="232.60" stroke="#1a1a1a" stroke-width="1.1"/>
<path d="M45.5,217.7 H73.0 V221.5" stroke="#1a1a1a" stroke-width="1.1" fill="none" />
<ellipse cx="60.00" cy="215.10" rx="1.0" ry="0.85" fill="#1a1a1a"/>
<path d="M45.5,221.7 H62.7 V226.3" stroke="#1a1a1a" stroke-width="1.1" fill="none" />
<ellipse cx="52.00" cy="219.10" rx="1.0" ry="0.85" fill="#1a1a1a"/>
<path d="M45.5,226.2 H57.8 V230.4" stroke="#1a1a1a" stroke-width="1.1" fill="none" />
<ellipse cx="52.30" cy="223.60" rx="1.0" ry="0.85" fill="#1a1a1a"/>
<ellipse cx="55.40" cy="223.60" rx="1.0" ry="0.85" fill="#1a1a1a"/>
<path d="M45.5,230.2 H53.7 V234.5" stroke="#1a1a1a" stroke-width="1.1" fill="none" />
<ellipse cx="49.00" cy="227.60" rx="1.0" ry="0.85" fill="#1a1a1a"/>
<ellipse cx="52.00" cy="227.60" rx="1.0" ry="0.85" fill="#1a1a1a"/>
<line x1="80.50" y1="217.00" x2="80.50" y2="232.60" stroke="#1a1a1a" stroke-width="1.1"/>
<path d="M80.5,217.5 H108.5 V221.5" stroke="#1a1a1a" stroke-width="1.1" fill="none" />
<ellipse cx="93.50" cy="214.90" rx="1.0" ry="0.85" fill="#1a1a1a"/>
<ellipse cx="96.40" cy="214.90" rx="1.0" ry="0.85" fill="#1a1a1a"/>
<path d="M80.5,221.9 H98.1 V226.3" stroke="#1a1a1a" stroke-width="1.1" fill="none" />
<ellipse cx="88.80" cy="219.30" rx="1.0" ry="0.85" fill="#1a1a1a"/>
<path d="M80.5,226.3 H93.1 V230.4" stroke="#1a1a1a" stroke-width="1.1" fill="none" />
<ellipse cx="84.80" cy="223.70" rx="1.0" ry="0.85" fill="#1a1a1a"/>
<ellipse cx="87.70" cy="223.70" rx="1.0" ry="0.85" fill="#1a1a1a"/>
<path d="M80.5,230.4 H87.3 V234.5" stroke="#1a1a1a" stroke-width="1.1" fill="none" />
<ellipse cx="83.80" cy="227.80" rx="1.0" ry="0.85" fill="#1a1a1a"/>
<ellipse cx="86.40" cy="227.80" rx="1.0" ry="0.85" fill="#1a1a1a"/>
<line x1="116.80" y1="217.00" x2="116.80" y2="232.60" stroke="#1a1a1a" stroke-width="1.1"/>
<path d="M116.8,217.3 H144.6 V221.5" stroke="#1a1a1a" stroke-width="1.1" fill="none" />
<ellipse cx="130.20" cy="214.70" rx="1.0" ry="0.85" fill="#1a1a1a"/>
<path d="M116.8,221.5 H134.5 V226.0" stroke="#1a1a1a" stroke-width="1.1" fill="none" />
<ellipse cx="123.70" cy="218.90" rx="1.0" ry="0.85" fill="#1a1a1a"/>
<path d="M116.8,226.2 H129.2 V230.4" stroke="#1a1a1a" stroke-width="1.1" fill="none" />
<ellipse cx="120.90" cy="223.60" rx="1.0" ry="0.85" fill="#1a1a1a"/>
<path d="M116.8,229.8 H123.2 V234.0" stroke="#1a1a1a" stroke-width="1.1" fill="none" />
<ellipse cx="118.60" cy="227.20" rx="1.0" ry="0.85" fill="#1a1a1a"/>
<ellipse cx="121.40" cy="227.20" rx="1.0" ry="0.85" fill="#1a1a1a"/>
<rect x="43.00" y="193.70" width="8.00" height="3.40" fill="#0b1640"/>
<text x="54.80" y="198.15" font-size="8.0" text-anchor="start" fill="#111" stroke="#111" stroke-width="0.24" textLength="24.20" lengthAdjust="spacingAndGlyphs">Control</text>
<rect x="83.20" y="194.70" width="8.00" height="3.40" fill="#d0021b"/>
<text x="95.00" y="199.15" font-size="8.0" text-anchor="start" fill="#111" stroke="#111" stroke-width="0.24" textLength="20.00" lengthAdjust="spacingAndGlyphs">THP-1</text>
<rect x="117.20" y="195.60" width="8.00" height="3.40" fill="#2ee82e"/>
<text x="129.00" y="200.05" font-size="8.0" text-anchor="start" fill="#111" stroke="#111" stroke-width="0.24" textLength="17.20" lengthAdjust="spacingAndGlyphs">U937</text>
<rect x="43.00" y="203.20" width="8.00" height="3.40" fill="#8c8cf8"/>
<text x="54.80" y="207.65" font-size="8.0" text-anchor="start" fill="#111" stroke="#111" stroke-width="0.24" textLength="17.70" lengthAdjust="spacingAndGlyphs">HL60</text>
<rect x="75.00" y="203.20" width="8.00" height="3.40" fill="#ff7f0e"/>
<text x="86.80" y="207.65" font-size="8.0" text-anchor="start" fill="#111" stroke="#111" stroke-width="0.24" textLength="30.00" lengthAdjust="spacingAndGlyphs">Molm-13</text>
<text x="158.50" y="202.40" font-size="11.8" text-anchor="start" fill="#000" stroke="#000" stroke-width="0.24" font-weight="bold">E</text>
<text x="169.60" y="225.28" font-size="7.8" text-anchor="start" fill="#2a3ad0" stroke="#2a3ad0" stroke-width="0.24" textLength="17.80" lengthAdjust="spacingAndGlyphs">DAPI</text>
<text x="191.60" y="225.28" font-size="7.8" text-anchor="start" fill="#d0101e" stroke="#d0101e" stroke-width="0.24" textLength="24.00" lengthAdjust="spacingAndGlyphs">RAD51</text>
<text x="218.40" y="225.28" font-size="7.8" text-anchor="start" fill="#111" stroke="#111" stroke-width="0.24" textLength="23.60" lengthAdjust="spacingAndGlyphs">Merge</text>
<text x="162.10" y="240.90" font-size="8.8" text-anchor="middle" fill="#111" stroke="#111" stroke-width="0.24" textLength="18.20" lengthAdjust="spacingAndGlyphs" transform="rotate(-90 162.10 237.80)">Dox–</text>
<text x="162.10" y="266.50" font-size="8.8" text-anchor="middle" fill="#111" stroke="#111" stroke-width="0.24" textLength="18.20" lengthAdjust="spacingAndGlyphs" transform="rotate(-90 162.10 263.40)">Dox+</text>
<rect x="169.00" y="227.40" width="23.20" height="23.20" fill="#000"/>
<rect x="193.20" y="227.40" width="23.70" height="23.20" fill="#000"/>
<rect x="218.20" y="227.40" width="23.70" height="23.20" fill="#000"/>
<rect x="169.00" y="253.80" width="23.20" height="23.50" fill="#000"/>
<rect x="193.20" y="253.80" width="23.70" height="23.50" fill="#000"/>
<rect x="218.20" y="253.80" width="23.70" height="23.50" fill="#000"/>
<g transform="rotate(0 180.6 238.6)">
<ellipse cx="180.6" cy="238.6" rx="8.8" ry="9.0" fill="#1818d0" opacity="0.28" filter="url(#blurC)"/>
<ellipse cx="180.6" cy="238.6" rx="8.8" ry="9.0" fill="#1818d0" opacity="0.6" filter="url(#tx)"/>
<ellipse cx="180.6" cy="238.6" rx="7.9" ry="8.1" fill="none" stroke="#2020e0" stroke-width="1.8" opacity="0.4" filter="url(#tx)"/>
</g>
<g transform="rotate(0 229.4 238.2)">
<ellipse cx="229.4" cy="238.2" rx="8.8" ry="9.0" fill="#1818d0" opacity="0.28" filter="url(#blurC)"/>
<ellipse cx="229.4" cy="238.2" rx="8.8" ry="9.0" fill="#1818d0" opacity="0.6" filter="url(#tx)"/>
<ellipse cx="229.4" cy="238.2" rx="7.9" ry="8.1" fill="none" stroke="#2020e0" stroke-width="1.8" opacity="0.4" filter="url(#tx)"/>
</g>
<g transform="rotate(0 180.6 264.6)">
<ellipse cx="180.6" cy="264.6" rx="8.4" ry="8.4" fill="#1212a8" opacity="0.18" filter="url(#blurC)"/>
<ellipse cx="180.6" cy="264.6" rx="8.4" ry="8.4" fill="#1212a8" opacity="0.4" filter="url(#tx)"/>
<ellipse cx="180.6" cy="264.6" rx="7.6" ry="7.6" fill="none" stroke="#1616b8" stroke-width="1.6" opacity="0.3" filter="url(#tx)"/>
</g>
<g transform="rotate(0 229.2 264.6)">
<ellipse cx="229.2" cy="264.6" rx="8.4" ry="8.4" fill="#1212a8" opacity="0.18" filter="url(#blurC)"/>
<ellipse cx="229.2" cy="264.6" rx="8.4" ry="8.4" fill="#1212a8" opacity="0.45" filter="url(#tx)"/>
<ellipse cx="229.2" cy="264.6" rx="7.6" ry="7.6" fill="none" stroke="#1616b8" stroke-width="1.6" opacity="0.3" filter="url(#tx)"/>
</g>
<g filter="url(#blurB)">
<circle cx="205.0" cy="236.3" r="0.6" fill="#701015"/>
<circle cx="208.8" cy="235.5" r="0.6" fill="#701015"/>
<circle cx="209.6" cy="238.6" r="0.6" fill="#701015"/>
<circle cx="204.2" cy="239.4" r="0.5" fill="#701015"/>
<circle cx="211.9" cy="243.2" r="0.5" fill="#701015"/>
<circle cx="214.2" cy="240.2" r="0.5" fill="#701015"/>
<circle cx="200.5" cy="241.5" r="0.4" fill="#701015"/>
</g>
<g filter="url(#blurB)">
<circle cx="232.7" cy="238.6" r="0.6" fill="#b02080"/>
<circle cx="229.6" cy="240.2" r="0.6" fill="#b02080"/>
<circle cx="234.0" cy="236.0" r="0.5" fill="#b02080"/>
</g>
<g filter="url(#blurB)">
<circle cx="202.7" cy="268.6" r="0.8" fill="#e01828"/>
</g>
<g filter="url(#blurB)">
<circle cx="226.5" cy="268.3" r="0.8" fill="#e030a0"/>
</g>
<rect x="233.40" y="248.20" width="7.50" height="1.00" fill="#fff"/>
<rect x="233.40" y="274.70" width="7.50" height="1.00" fill="#fff"/>
<rect x="283.00" y="226.02" width="11.80" height="53.58" fill="#1a3db5"/>
<rect x="294.80" y="255.12" width="12.30" height="24.48" fill="#cc0011"/>
<line x1="288.90" y1="226.02" x2="288.90" y2="215.14" stroke="#333" stroke-width="1"/>
<line x1="286.30" y1="215.14" x2="291.50" y2="215.14" stroke="#222" stroke-width="1.1"/>
<line x1="300.90" y1="255.12" x2="300.90" y2="248.59" stroke="#333" stroke-width="1"/>
<line x1="298.30" y1="248.59" x2="303.50" y2="248.59" stroke="#222" stroke-width="1.1"/>
<line x1="275.20" y1="211.00" x2="275.20" y2="280.10" stroke="#222" stroke-width="1.1"/>
<line x1="274.70" y1="279.60" x2="313.60" y2="279.60" stroke="#222" stroke-width="1.1"/>
<line x1="272.40" y1="279.60" x2="275.20" y2="279.60" stroke="#222" stroke-width="1"/>
<text x="270.30" y="282.49" font-size="8.4" text-anchor="end" fill="#111" stroke="#111" stroke-width="0.24" textLength="4.00" lengthAdjust="spacingAndGlyphs">0</text>
<line x1="272.40" y1="266.00" x2="275.20" y2="266.00" stroke="#222" stroke-width="1"/>
<text x="270.30" y="268.89" font-size="8.4" text-anchor="end" fill="#111" stroke="#111" stroke-width="0.24" textLength="4.00" lengthAdjust="spacingAndGlyphs">5</text>
<line x1="272.40" y1="252.40" x2="275.20" y2="252.40" stroke="#222" stroke-width="1"/>
<text x="270.30" y="255.29" font-size="8.4" text-anchor="end" fill="#111" stroke="#111" stroke-width="0.24" textLength="8.00" lengthAdjust="spacingAndGlyphs">10</text>
<line x1="272.40" y1="238.80" x2="275.20" y2="238.80" stroke="#222" stroke-width="1"/>
<text x="270.30" y="241.69" font-size="8.4" text-anchor="end" fill="#111" stroke="#111" stroke-width="0.24" textLength="8.00" lengthAdjust="spacingAndGlyphs">15</text>
<line x1="272.40" y1="225.20" x2="275.20" y2="225.20" stroke="#222" stroke-width="1"/>
<text x="270.30" y="228.09" font-size="8.4" text-anchor="end" fill="#111" stroke="#111" stroke-width="0.24" textLength="8.00" lengthAdjust="spacingAndGlyphs">20</text>
<line x1="272.40" y1="211.60" x2="275.20" y2="211.60" stroke="#222" stroke-width="1"/>
<text x="270.30" y="214.49" font-size="8.4" text-anchor="end" fill="#111" stroke="#111" stroke-width="0.24" textLength="8.00" lengthAdjust="spacingAndGlyphs">25</text>
<line x1="288.90" y1="279.60" x2="288.90" y2="282.20" stroke="#222" stroke-width="1"/>
<line x1="300.90" y1="279.60" x2="300.90" y2="282.20" stroke="#222" stroke-width="1"/>
<text x="295.00" y="290.01" font-size="7.6" text-anchor="middle" fill="#111" stroke="#111" stroke-width="0.24" textLength="40.00" lengthAdjust="spacingAndGlyphs">Dox– Dox+</text>
<text x="255.90" y="249.60" font-size="8.2" text-anchor="middle" fill="#2a2a2a" stroke="#2a2a2a" stroke-width="0.08" textLength="63.00" lengthAdjust="spacingAndGlyphs" transform="rotate(-90 255.90 246.70)">RAD51 foci per cell</text>
<path d="M287.4,215.4 V211.6 H302.5 V215.3" stroke="#1a1a1a" stroke-width="1.1" fill="none" />
<ellipse cx="292.40" cy="209.30" rx="1.0" ry="0.85" fill="#1a1a1a"/>
<ellipse cx="295.00" cy="209.30" rx="1.0" ry="0.85" fill="#1a1a1a"/>
<ellipse cx="297.60" cy="209.30" rx="1.0" ry="0.85" fill="#1a1a1a"/>
<text x="335.80" y="202.30" font-size="11.8" text-anchor="start" fill="#000" stroke="#000" stroke-width="0.24" font-weight="bold">F</text>
<text x="340.20" y="221.60" font-size="8.0" text-anchor="start" fill="#111" stroke="#111" stroke-width="0.24" textLength="20.00" lengthAdjust="spacingAndGlyphs">THP-1</text>
<text x="365.80" y="221.60" font-size="8.0" text-anchor="start" fill="#111" stroke="#111" stroke-width="0.24" textLength="31.40" lengthAdjust="spacingAndGlyphs">Molm-13</text>
<text x="334.90" y="236.30" font-size="8.4" text-anchor="middle" fill="#111" stroke="#111" stroke-width="0.24" textLength="17.80" lengthAdjust="spacingAndGlyphs" transform="rotate(-90 334.90 233.50)">Dox–</text>
<text x="334.90" y="262.30" font-size="8.4" text-anchor="middle" fill="#111" stroke="#111" stroke-width="0.24" textLength="19.00" lengthAdjust="spacingAndGlyphs" transform="rotate(-90 334.90 259.50)">Dox+</text>
<rect x="340.90" y="223.90" width="26.00" height="20.20" fill="#000"/>
<rect x="368.20" y="223.90" width="26.40" height="20.20" fill="#000"/>
<rect x="340.90" y="250.00" width="26.00" height="20.10" fill="#000"/>
<rect x="368.20" y="250.00" width="26.40" height="20.10" fill="#000"/>
<g filter="url(#blurB)">
<circle cx="351.70" cy="228.50" r="1.55" fill="#1830ff" opacity="1"/>
<circle cx="358.20" cy="227.80" r="2.05" fill="#1830ff" opacity="1"/>
<circle cx="363.70" cy="229.80" r="1.55" fill="#1830ff" opacity="1"/>
<circle cx="345.20" cy="236.90" r="1.45" fill="#1830ff" opacity="1"/>
<circle cx="356.90" cy="240.60" r="0.85" fill="#1830ff" opacity="0.5"/>
<circle cx="375.80" cy="229.40" r="1.25" fill="#1830ff" opacity="0.3"/>
<circle cx="380.70" cy="228.50" r="1.25" fill="#1830ff" opacity="0.3"/>
<circle cx="383.60" cy="233.70" r="1.75" fill="#1830ff" opacity="1"/>
<circle cx="387.20" cy="233.30" r="1.45" fill="#1830ff" opacity="1"/>
<circle cx="377.70" cy="241.50" r="1.65" fill="#1830ff" opacity="0.35"/>
<circle cx="351.70" cy="256.70" r="1.55" fill="#1830ff" opacity="1"/>
<circle cx="351.70" cy="260.60" r="1.65" fill="#1830ff" opacity="1"/>
<circle cx="361.20" cy="261.70" r="1.65" fill="#1830ff" opacity="1"/>
<circle cx="342.60" cy="265.80" r="1.35" fill="#1830ff" opacity="1"/>
<circle cx="369.30" cy="250.60" r="1.05" fill="#1830ff" opacity="1"/>
<circle cx="378.60" cy="251.90" r="1.75" fill="#1830ff" opacity="1"/>
<circle cx="382.30" cy="257.80" r="2.45" fill="#1830ff" opacity="1"/>
<circle cx="383.30" cy="264.90" r="2.65" fill="#1830ff" opacity="1"/>
<circle cx="384.20" cy="268.20" r="1.85" fill="#1830ff" opacity="1"/>
<circle cx="388.10" cy="264.90" r="1.25" fill="#1830ff" opacity="1"/>
<circle cx="392.00" cy="265.30" r="1.95" fill="#1830ff" opacity="1"/>
<circle cx="372.50" cy="270.10" r="1.05" fill="#1830ff" opacity="0.8"/>
</g>
<line x1="430.20" y1="208.90" x2="430.20" y2="280.10" stroke="#222" stroke-width="1.1"/>
<line x1="429.70" y1="279.60" x2="513.50" y2="279.60" stroke="#222" stroke-width="1.1"/>
<line x1="427.30" y1="279.60" x2="430.20" y2="279.60" stroke="#222" stroke-width="1"/>
<text x="424.00" y="282.49" font-size="8.4" text-anchor="end" fill="#111" stroke="#111" stroke-width="0.24" textLength="3.90" lengthAdjust="spacingAndGlyphs">0</text>
<line x1="427.30" y1="261.90" x2="430.20" y2="261.90" stroke="#222" stroke-width="1"/>
<text x="424.00" y="264.79" font-size="8.4" text-anchor="end" fill="#111" stroke="#111" stroke-width="0.24" textLength="7.80" lengthAdjust="spacingAndGlyphs">10</text>
<line x1="427.30" y1="244.20" x2="430.20" y2="244.20" stroke="#222" stroke-width="1"/>
<text x="424.00" y="247.09" font-size="8.4" text-anchor="end" fill="#111" stroke="#111" stroke-width="0.24" textLength="7.80" lengthAdjust="spacingAndGlyphs">20</text>
<line x1="427.30" y1="226.50" x2="430.20" y2="226.50" stroke="#222" stroke-width="1"/>
<text x="424.00" y="229.39" font-size="8.4" text-anchor="end" fill="#111" stroke="#111" stroke-width="0.24" textLength="7.80" lengthAdjust="spacingAndGlyphs">30</text>
<line x1="427.30" y1="208.80" x2="430.20" y2="208.80" stroke="#222" stroke-width="1"/>
<text x="424.00" y="211.69" font-size="8.4" text-anchor="end" fill="#111" stroke="#111" stroke-width="0.24" textLength="7.80" lengthAdjust="spacingAndGlyphs">40</text>
<line x1="438.30" y1="260.31" x2="444.10" y2="260.31" stroke="#1a1a1a" stroke-width="1.0"/>
<line x1="438.30" y1="276.77" x2="444.10" y2="276.77" stroke="#1a1a1a" stroke-width="1.0"/>
<rect x="435.30" y="263.14" width="11.80" height="7.61" fill="#1f44d0" stroke="#1a1a1a" stroke-width="1.1"/>
<line x1="441.20" y1="260.31" x2="441.20" y2="276.77" stroke="#1a1a1a" stroke-width="0.9"/>
<line x1="435.30" y1="266.86" x2="447.10" y2="266.86" stroke="#1a1a1a" stroke-width="1.0"/>
<line x1="454.50" y1="231.10" x2="460.30" y2="231.10" stroke="#1a1a1a" stroke-width="1.0"/>
<line x1="454.50" y1="253.76" x2="460.30" y2="253.76" stroke="#1a1a1a" stroke-width="1.0"/>
<rect x="451.60" y="243.85" width="11.60" height="7.43" fill="#dd1122" stroke="#1a1a1a" stroke-width="1.1"/>
<line x1="457.40" y1="231.10" x2="457.40" y2="253.76" stroke="#1a1a1a" stroke-width="0.9"/>
<line x1="451.60" y1="247.21" x2="463.20" y2="247.21" stroke="#1a1a1a" stroke-width="1.0"/>
<line x1="482.30" y1="261.37" x2="488.10" y2="261.37" stroke="#1a1a1a" stroke-width="1.0"/>
<line x1="482.30" y1="274.82" x2="488.10" y2="274.82" stroke="#1a1a1a" stroke-width="1.0"/>
<rect x="479.30" y="264.73" width="11.80" height="6.73" fill="#1f44d0" stroke="#1a1a1a" stroke-width="1.1"/>
<line x1="485.20" y1="261.37" x2="485.20" y2="274.82" stroke="#1a1a1a" stroke-width="0.9"/>
<line x1="479.30" y1="268.10" x2="491.10" y2="268.10" stroke="#1a1a1a" stroke-width="1.0"/>
<line x1="498.85" y1="227.03" x2="504.65" y2="227.03" stroke="#1a1a1a" stroke-width="1.0"/>
<line x1="498.85" y1="241.10" x2="504.65" y2="241.10" stroke="#1a1a1a" stroke-width="1.0"/>
<rect x="496.10" y="229.86" width="11.30" height="6.19" fill="#dd1122" stroke="#1a1a1a" stroke-width="1.1"/>
<line x1="501.75" y1="227.03" x2="501.75" y2="241.10" stroke="#1a1a1a" stroke-width="0.9"/>
<line x1="496.10" y1="232.70" x2="507.40" y2="232.70" stroke="#1a1a1a" stroke-width="1.0"/>
<line x1="449.40" y1="279.60" x2="449.40" y2="282.20" stroke="#222" stroke-width="1"/>
<line x1="493.30" y1="279.60" x2="493.30" y2="282.20" stroke="#222" stroke-width="1"/>
<text x="449.00" y="291.20" font-size="7.8" text-anchor="middle" fill="#111" stroke="#111" stroke-width="0.24" textLength="17.30" lengthAdjust="spacingAndGlyphs">THP1</text>
<text x="493.40" y="291.20" font-size="7.8" text-anchor="middle" fill="#111" stroke="#111" stroke-width="0.24" textLength="30.60" lengthAdjust="spacingAndGlyphs">Molm-13</text>
<text x="407.20" y="247.70" font-size="8.2" text-anchor="middle" fill="#111" stroke="#111" stroke-width="0.12" textLength="55.90" lengthAdjust="spacingAndGlyphs" transform="rotate(-90 407.20 244.70)">Percent tail DNA</text>
<rect x="434.40" y="209.30" width="7.70" height="3.60" fill="#1f44d0" stroke="#222" stroke-width="0.6"/>
<rect x="434.40" y="214.60" width="7.70" height="3.60" fill="#dd1122" stroke="#222" stroke-width="0.6"/>
<text x="443.60" y="213.65" font-size="7.4" text-anchor="start" fill="#111" stroke="#111" stroke-width="0.12" textLength="15.00" lengthAdjust="spacingAndGlyphs">Dox–</text>
<text x="443.60" y="218.95" font-size="7.4" text-anchor="start" fill="#111" stroke="#111" stroke-width="0.12" textLength="17.40" lengthAdjust="spacingAndGlyphs">Dox+</text>
<line x1="484.30" y1="223.40" x2="504.60" y2="223.40" stroke="#222" stroke-width="1.0"/>
<ellipse cx="489.90" cy="221.40" rx="1.0" ry="0.85" fill="#1a1a1a"/>
<ellipse cx="493.30" cy="221.40" rx="1.0" ry="0.85" fill="#1a1a1a"/>
<ellipse cx="496.70" cy="221.40" rx="1.0" ry="0.85" fill="#1a1a1a"/>
<ellipse cx="500.10" cy="221.40" rx="1.0" ry="0.85" fill="#1a1a1a"/>
<text x="11.60" y="315.50" font-size="11.8" text-anchor="start" fill="#000" stroke="#000" stroke-width="0.24" font-weight="bold">G</text>
<text x="74.85" y="310.50" font-size="8.4" text-anchor="middle" fill="#111" stroke="#111" stroke-width="0.12" textLength="25.30" lengthAdjust="spacingAndGlyphs">Control</text>
<line x1="45.50" y1="313.50" x2="104.50" y2="313.50" stroke="#111" stroke-width="1.0"/>
<text x="151.15" y="310.50" font-size="8.4" text-anchor="middle" fill="#111" stroke="#111" stroke-width="0.12" textLength="36.10" lengthAdjust="spacingAndGlyphs">GADD45g</text>
<line x1="120.00" y1="313.50" x2="178.50" y2="313.50" stroke="#111" stroke-width="1.0"/>
<text x="39.80" y="320.50" font-size="8.0" text-anchor="start" fill="#2a3ad0" stroke="#2a3ad0" stroke-width="0.12" textLength="17.00" lengthAdjust="spacingAndGlyphs">DAPI</text>
<text x="114.90" y="320.50" font-size="8.0" text-anchor="start" fill="#2a3ad0" stroke="#2a3ad0" stroke-width="0.12" textLength="18.10" lengthAdjust="spacingAndGlyphs">DAPI</text>
<text x="61.40" y="320.50" font-size="8.0" text-anchor="start" fill="#d0101e" stroke="#d0101e" stroke-width="0.12" textLength="24.60" lengthAdjust="spacingAndGlyphs">γH2AX</text>
<text x="136.50" y="320.50" font-size="8.0" text-anchor="start" fill="#d0101e" stroke="#d0101e" stroke-width="0.12" textLength="24.30" lengthAdjust="spacingAndGlyphs">γH2AX</text>
<text x="89.00" y="320.50" font-size="8.0" text-anchor="start" fill="#111" stroke="#111" stroke-width="0.12" textLength="23.20" lengthAdjust="spacingAndGlyphs">Merge</text>
<text x="163.10" y="320.50" font-size="8.0" text-anchor="start" fill="#111" stroke="#111" stroke-width="0.12" textLength="23.10" lengthAdjust="spacingAndGlyphs">Merge</text>
<text x="35.80" y="339.80" font-size="7.9" text-anchor="end" fill="#111" stroke="#111" stroke-width="0.12" textLength="31.60" lengthAdjust="spacingAndGlyphs">Molm-13</text>
<text x="35.80" y="363.90" font-size="7.9" text-anchor="end" fill="#111" stroke="#111" stroke-width="0.12" textLength="16.90" lengthAdjust="spacingAndGlyphs">AML</text>
<text x="35.80" y="388.00" font-size="7.9" text-anchor="end" fill="#111" stroke="#111" stroke-width="0.12" textLength="10.50" lengthAdjust="spacingAndGlyphs">CB</text>
<rect x="37.40" y="324.50" width="69.20" height="22.80" fill="#000"/>
<rect x="115.70" y="324.50" width="68.30" height="22.80" fill="#000"/>
<rect x="37.40" y="350.40" width="69.20" height="22.00" fill="#000"/>
<rect x="115.70" y="350.40" width="68.30" height="22.00" fill="#000"/>
<rect x="37.40" y="375.60" width="69.20" height="23.70" fill="#000"/>
<rect x="115.70" y="375.60" width="68.30" height="23.70" fill="#000"/>
<g transform="rotate(-25 49.4 336.6)">
<ellipse cx="49.4" cy="336.6" rx="9.4" ry="8.2" fill="#1818c0" opacity="0.2" filter="url(#blurC)"/>
<ellipse cx="49.4" cy="336.6" rx="9.4" ry="8.2" fill="#1818c0" opacity="0.38" filter="url(#tx)"/>
</g>
<g transform="rotate(-20 95.6 335.6)">
<ellipse cx="95.6" cy="335.6" rx="9.8" ry="9.4" fill="#2020e0" opacity="0.32" filter="url(#blurC)"/>
<ellipse cx="95.6" cy="335.6" rx="9.8" ry="9.4" fill="#2020e0" opacity="0.7" filter="url(#tx)"/>
<ellipse cx="95.6" cy="335.6" rx="8.9" ry="8.5" fill="none" stroke="#2424f0" stroke-width="1.8" opacity="0.45" filter="url(#tx)"/>
</g>
<g filter="url(#blurB)">
<circle cx="64.4" cy="335.9" r="0.6" fill="#d01818"/>
<circle cx="71.7" cy="339.3" r="0.8" fill="#d01818"/>
<circle cx="78.9" cy="335.6" r="1.1" fill="#d01818"/>
<circle cx="73.4" cy="340.6" r="0.6" fill="#d01818"/>
<circle cx="66.5" cy="341.6" r="0.5" fill="#d01818"/>
<circle cx="75.0" cy="333.0" r="0.5" fill="#d01818"/>
<circle cx="80.6" cy="342.0" r="0.5" fill="#d01818"/>
</g>
<g filter="url(#blurB)">
<circle cx="99.0" cy="334.0" r="0.7" fill="#ff38c0"/>
<circle cx="101.7" cy="336.0" r="0.7" fill="#ff38c0"/>
<circle cx="103.0" cy="334.8" r="0.9" fill="#ff38c0"/>
<circle cx="94.5" cy="339.8" r="0.7" fill="#ff38c0"/>
<circle cx="97.5" cy="341.0" r="0.6" fill="#ff38c0"/>
<circle cx="91.0" cy="337.0" r="0.5" fill="#ff38c0"/>
</g>
<g transform="rotate(0 49.2 361.0)">
<ellipse cx="49.2" cy="361.0" rx="5.5" ry="6.0" fill="#1616b8" opacity="0.2" filter="url(#blurC)"/>
<ellipse cx="49.2" cy="361.0" rx="5.5" ry="6.0" fill="#1616b8" opacity="0.45" filter="url(#tx)"/>
</g>
<g transform="rotate(0 94.9 361.0)">
<ellipse cx="94.9" cy="361.0" rx="5.5" ry="6.0" fill="#1616b8" opacity="0.2" filter="url(#blurC)"/>
<ellipse cx="94.9" cy="361.0" rx="5.5" ry="6.0" fill="#1616b8" opacity="0.45" filter="url(#tx)"/>
</g>
<g filter="url(#blurB)">
<circle cx="67.9" cy="370.5" r="0.7" fill="#c01818"/>
<circle cx="91.4" cy="370.5" r="0.7" fill="#c01818"/>
<circle cx="70.0" cy="353.5" r="0.4" fill="#c01818"/>
</g>
<g transform="rotate(0 47.5 387.6)">
<ellipse cx="47.5" cy="387.6" rx="4.6" ry="4.4" fill="#2222f0" opacity="0.45" filter="url(#blurC)"/>
<ellipse cx="47.5" cy="387.6" rx="4.6" ry="4.4" fill="#2222f0" opacity="0.85" filter="url(#tx)"/>
</g>
<g transform="rotate(0 96.0 387.6)">
<ellipse cx="96.0" cy="387.6" rx="4.6" ry="4.6" fill="#2222f0" opacity="0.45" filter="url(#blurC)"/>
<ellipse cx="96.0" cy="387.6" rx="4.6" ry="4.6" fill="#2222f0" opacity="0.85" filter="url(#tx)"/>
</g>
<g transform="rotate(0 128.5 335.9)">
<ellipse cx="128.5" cy="335.9" rx="8.0" ry="9.0" fill="#1616c0" opacity="0.08" filter="url(#blurC)"/>
<ellipse cx="128.5" cy="335.9" rx="8.0" ry="9.0" fill="#1616c0" opacity="0.3" filter="url(#tx)"/>
<ellipse cx="128.5" cy="335.9" rx="7.1" ry="8.1" fill="none" stroke="#1c1cd0" stroke-width="1.8" opacity="0.75" filter="url(#tx)"/>
</g>
<g transform="rotate(0 151.5 336.0)">
<ellipse cx="151.5" cy="336.0" rx="6.8" ry="9.0" fill="#ff1a1a" opacity="1.0" filter="url(#txs)"/>
</g>
<g filter="url(#blurB)">
<circle cx="148.5" cy="335.0" r="1.4" fill="#ff1a1a"/>
<circle cx="151.0" cy="333.0" r="1.0" fill="#ff1a1a"/>
<circle cx="150.0" cy="344.0" r="1.1" fill="#ff1a1a"/>
<circle cx="158.2" cy="336.0" r="1.0" fill="#ff1a1a"/>
<circle cx="158.0" cy="338.5" r="1.0" fill="#ff1a1a"/>
<circle cx="152.0" cy="326.5" r="0.8" fill="#ff1a1a"/>
</g>
<g transform="rotate(0 173.6 336.0)">
<ellipse cx="173.6" cy="336.0" rx="9.2" ry="10.0" fill="#2020e0" opacity="0.15" filter="url(#blurC)"/>
<ellipse cx="173.6" cy="336.0" rx="9.2" ry="10.0" fill="#2020e0" opacity="0.45" filter="url(#tx)"/>
<ellipse cx="173.6" cy="336.0" rx="8.1" ry="8.9" fill="none" stroke="#2c2cff" stroke-width="2.2" opacity="0.9" filter="url(#tx)"/>
</g>
<g transform="rotate(0 173.0 336.0)">
<ellipse cx="173.0" cy="336.0" rx="6.8" ry="8.1" fill="#ff30a0" opacity="0.7" filter="url(#txs)"/>
</g>
<g filter="url(#blurB)">
<circle cx="172.0" cy="336.5" r="1.3" fill="#ff30b0"/>
<circle cx="181.5" cy="335.5" r="0.9" fill="#ff30b0"/>
<circle cx="170.5" cy="333.0" r="1.0" fill="#ff30b0"/>
</g>
<rect x="177.00" y="345.30" width="6.30" height="1.00" fill="#fff"/>
<g transform="rotate(0 126.8 361.6)">
<ellipse cx="126.8" cy="361.6" rx="5.3" ry="6.0" fill="#2828ff" opacity="0.6" filter="url(#blurC)"/>
<ellipse cx="126.8" cy="361.6" rx="5.3" ry="6.0" fill="#2828ff" opacity="1.0" filter="url(#tx)"/>
</g>
<g transform="rotate(0 149.3 362.2)">
<ellipse cx="149.3" cy="362.2" rx="6.8" ry="7.0" fill="#f01818" opacity="0.06" filter="url(#blurC)"/>
<ellipse cx="149.3" cy="362.2" rx="6.8" ry="7.0" fill="#f01818" opacity="0.6" filter="url(#tx)"/>
<ellipse cx="149.3" cy="362.2" rx="5.7" ry="5.9" fill="none" stroke="#ff2020" stroke-width="2.2" opacity="0.75" filter="url(#tx)"/>
</g>
<g transform="rotate(0 172.2 362.2)">
<ellipse cx="172.2" cy="362.2" rx="6.6" ry="7.0" fill="#5a40ff" opacity="0.6" filter="url(#blurC)"/>
<ellipse cx="172.2" cy="362.2" rx="6.6" ry="7.0" fill="#5a40ff" opacity="1.0" filter="url(#tx)"/>
<ellipse cx="172.2" cy="362.2" rx="5.5" ry="5.9" fill="none" stroke="#ff30c0" stroke-width="2.2" opacity="0.9" filter="url(#tx)"/>
</g>
<rect x="177.00" y="370.80" width="6.30" height="1.00" fill="#fff"/>
<g transform="rotate(0 127.6 385.8)">
<ellipse cx="127.6" cy="385.8" rx="4.5" ry="4.5" fill="#2222ff" opacity="0.3" filter="url(#blurC)"/>
<ellipse cx="127.6" cy="385.8" rx="4.5" ry="4.5" fill="#2222ff" opacity="0.9" filter="url(#tx)"/>
<ellipse cx="127.6" cy="385.8" rx="3.7" ry="3.7" fill="none" stroke="#2a2aff" stroke-width="1.6" opacity="0.9" filter="url(#tx)"/>
</g>
<g transform="rotate(0 172.9 387.9)">
<ellipse cx="172.9" cy="387.9" rx="4.5" ry="4.6" fill="#2222ff" opacity="0.3" filter="url(#blurC)"/>
<ellipse cx="172.9" cy="387.9" rx="4.5" ry="4.6" fill="#2222ff" opacity="0.9" filter="url(#tx)"/>
<ellipse cx="172.9" cy="387.9" rx="3.7" ry="3.8" fill="none" stroke="#2a2aff" stroke-width="1.6" opacity="0.9" filter="url(#tx)"/>
</g>
<rect x="176.50" y="397.00" width="6.30" height="1.00" fill="#fff"/>
<text x="216.00" y="316.00" font-size="11.8" text-anchor="start" fill="#000" stroke="#000" stroke-width="0.24" font-weight="bold">H</text>
<line x1="245.20" y1="313.00" x2="245.20" y2="398.20" stroke="#222" stroke-width="1.1"/>
<line x1="244.70" y1="397.70" x2="329.00" y2="397.70" stroke="#222" stroke-width="1.1"/>
<line x1="242.40" y1="397.70" x2="245.20" y2="397.70" stroke="#222" stroke-width="1"/>
<text x="239.20" y="400.73" font-size="8.8" text-anchor="end" fill="#111" stroke="#111" stroke-width="0.24" textLength="4.50" lengthAdjust="spacingAndGlyphs">0</text>
<line x1="242.40" y1="380.75" x2="245.20" y2="380.75" stroke="#222" stroke-width="1"/>
<text x="239.20" y="383.78" font-size="8.8" text-anchor="end" fill="#111" stroke="#111" stroke-width="0.24" textLength="4.50" lengthAdjust="spacingAndGlyphs">5</text>
<line x1="242.40" y1="363.80" x2="245.20" y2="363.80" stroke="#222" stroke-width="1"/>
<text x="239.20" y="366.83" font-size="8.8" text-anchor="end" fill="#111" stroke="#111" stroke-width="0.24" textLength="9.00" lengthAdjust="spacingAndGlyphs">10</text>
<line x1="242.40" y1="346.85" x2="245.20" y2="346.85" stroke="#222" stroke-width="1"/>
<text x="239.20" y="349.88" font-size="8.8" text-anchor="end" fill="#111" stroke="#111" stroke-width="0.24" textLength="9.00" lengthAdjust="spacingAndGlyphs">15</text>
<line x1="242.40" y1="329.90" x2="245.20" y2="329.90" stroke="#222" stroke-width="1"/>
<text x="239.20" y="332.93" font-size="8.8" text-anchor="end" fill="#111" stroke="#111" stroke-width="0.24" textLength="9.00" lengthAdjust="spacingAndGlyphs">20</text>
<line x1="242.40" y1="312.95" x2="245.20" y2="312.95" stroke="#222" stroke-width="1"/>
<text x="239.20" y="315.98" font-size="8.8" text-anchor="end" fill="#111" stroke="#111" stroke-width="0.24" textLength="9.00" lengthAdjust="spacingAndGlyphs">25</text>
<line x1="252.35" y1="367.19" x2="258.75" y2="367.19" stroke="#1a1a1a" stroke-width="1.0"/>
<line x1="252.35" y1="387.53" x2="258.75" y2="387.53" stroke="#1a1a1a" stroke-width="1.0"/>
<rect x="250.30" y="371.94" width="10.50" height="11.53" fill="#1040c0" stroke="#1a1a1a" stroke-width="1.1"/>
<line x1="255.55" y1="367.19" x2="255.55" y2="387.53" stroke="#1a1a1a" stroke-width="0.9"/>
<line x1="250.30" y1="379.06" x2="260.80" y2="379.06" stroke="#1a1a1a" stroke-width="1.0"/>
<line x1="269.95" y1="329.90" x2="276.35" y2="329.90" stroke="#1a1a1a" stroke-width="1.0"/>
<line x1="269.95" y1="364.14" x2="276.35" y2="364.14" stroke="#1a1a1a" stroke-width="1.0"/>
<rect x="267.70" y="333.63" width="10.90" height="26.10" fill="#1040c0" stroke="#1a1a1a" stroke-width="1.1"/>
<line x1="273.15" y1="329.90" x2="273.15" y2="364.14" stroke="#1a1a1a" stroke-width="0.9"/>
<line x1="267.70" y1="347.19" x2="278.60" y2="347.19" stroke="#1a1a1a" stroke-width="1.0"/>
<line x1="297.55" y1="380.75" x2="303.95" y2="380.75" stroke="#1a1a1a" stroke-width="1.0"/>
<line x1="297.55" y1="394.31" x2="303.95" y2="394.31" stroke="#1a1a1a" stroke-width="1.0"/>
<rect x="295.10" y="384.82" width="11.30" height="7.12" fill="#dd1020" stroke="#1a1a1a" stroke-width="1.1"/>
<line x1="300.75" y1="380.75" x2="300.75" y2="394.31" stroke="#1a1a1a" stroke-width="0.9"/>
<line x1="295.10" y1="387.53" x2="306.40" y2="387.53" stroke="#1a1a1a" stroke-width="1.0"/>
<line x1="314.45" y1="347.19" x2="320.85" y2="347.19" stroke="#1a1a1a" stroke-width="1.0"/>
<line x1="314.45" y1="377.70" x2="320.85" y2="377.70" stroke="#1a1a1a" stroke-width="1.0"/>
<rect x="312.00" y="356.34" width="11.30" height="16.95" fill="#1040c0" stroke="#1a1a1a" stroke-width="1.1"/>
<line x1="317.65" y1="347.19" x2="317.65" y2="377.70" stroke="#1a1a1a" stroke-width="0.9"/>
<line x1="312.00" y1="367.87" x2="323.30" y2="367.87" stroke="#1a1a1a" stroke-width="1.0"/>
<line x1="263.70" y1="397.70" x2="263.70" y2="400.30" stroke="#222" stroke-width="1"/>
<line x1="309.50" y1="397.70" x2="309.50" y2="400.30" stroke="#222" stroke-width="1"/>
<text x="263.80" y="409.30" font-size="7.8" text-anchor="middle" fill="#111" stroke="#111" stroke-width="0.24" textLength="32.00" lengthAdjust="spacingAndGlyphs">Molm-13</text>
<text x="308.50" y="409.30" font-size="7.8" text-anchor="middle" fill="#111" stroke="#111" stroke-width="0.24" textLength="15.20" lengthAdjust="spacingAndGlyphs">AML</text>
<text x="223.00" y="357.00" font-size="7.8" text-anchor="middle" fill="#111" stroke="#111" stroke-width="0.12" textLength="56.80" lengthAdjust="spacingAndGlyphs" transform="rotate(-90 223.00 354.20)">γH2AX foci per cell</text>
<line x1="252.30" y1="323.80" x2="275.40" y2="323.80" stroke="#222" stroke-width="0.9"/>
<ellipse cx="261.50" cy="321.50" rx="1.0" ry="0.85" fill="#1a1a1a"/>
<ellipse cx="263.80" cy="321.50" rx="1.0" ry="0.85" fill="#1a1a1a"/>
<ellipse cx="266.10" cy="321.50" rx="1.0" ry="0.85" fill="#1a1a1a"/>
<line x1="294.30" y1="342.80" x2="318.00" y2="342.80" stroke="#222" stroke-width="1.0"/>
<ellipse cx="302.80" cy="340.70" rx="1.0" ry="0.85" fill="#1a1a1a"/>
<ellipse cx="305.20" cy="340.70" rx="1.0" ry="0.85" fill="#1a1a1a"/>
<rect x="305.20" y="317.60" width="7.20" height="3.60" fill="#dd1020" stroke="#111" stroke-width="1.0"/>
<rect x="305.20" y="323.90" width="7.20" height="3.60" fill="#1040c0" stroke="#111" stroke-width="1.0"/>
<text x="313.90" y="320.50" font-size="8.2" text-anchor="start" fill="#111" stroke="#111" stroke-width="0.24" textLength="25.40" lengthAdjust="spacingAndGlyphs">Control</text>
<text x="313.90" y="328.30" font-size="8.2" text-anchor="start" fill="#111" stroke="#111" stroke-width="0.24" textLength="35.70" lengthAdjust="spacingAndGlyphs">GADD45g</text>
<text x="368.30" y="318.40" font-size="11.8" text-anchor="start" fill="#000" stroke="#000" stroke-width="0.24" font-weight="bold">I</text>
<rect x="396.20" y="366.56" width="15.80" height="31.14" fill="#1238c0"/>
<line x1="404.10" y1="366.56" x2="404.10" y2="356.32" stroke="#333" stroke-width="1.1"/>
<line x1="400.40" y1="356.32" x2="407.80" y2="356.32" stroke="#333" stroke-width="1.1"/>
<rect x="412.00" y="386.41" width="16.40" height="11.29" fill="#d00010"/>
<line x1="420.20" y1="386.41" x2="420.20" y2="381.40" stroke="#333" stroke-width="1.1"/>
<line x1="416.50" y1="381.40" x2="423.90" y2="381.40" stroke="#333" stroke-width="1.1"/>
<rect x="433.60" y="346.08" width="16.30" height="51.62" fill="#1238c0"/>
<line x1="441.75" y1="346.08" x2="441.75" y2="335.42" stroke="#333" stroke-width="1.1"/>
<line x1="438.05" y1="335.42" x2="445.45" y2="335.42" stroke="#333" stroke-width="1.1"/>
<rect x="449.90" y="380.77" width="16.30" height="16.93" fill="#d00010"/>
<line x1="458.05" y1="380.77" x2="458.05" y2="374.50" stroke="#333" stroke-width="1.1"/>
<line x1="454.35" y1="374.50" x2="461.75" y2="374.50" stroke="#333" stroke-width="1.1"/>
<line x1="394.10" y1="314.00" x2="394.10" y2="398.20" stroke="#222" stroke-width="1.1"/>
<line x1="393.60" y1="397.70" x2="469.00" y2="397.70" stroke="#222" stroke-width="1.1"/>
<line x1="391.00" y1="397.70" x2="394.10" y2="397.70" stroke="#222" stroke-width="1"/>
<text x="388.00" y="400.59" font-size="8.4" text-anchor="end" fill="#111" stroke="#111" stroke-width="0.24" textLength="4.00" lengthAdjust="spacingAndGlyphs">0</text>
<line x1="391.00" y1="376.80" x2="394.10" y2="376.80" stroke="#222" stroke-width="1"/>
<text x="388.00" y="379.69" font-size="8.4" text-anchor="end" fill="#111" stroke="#111" stroke-width="0.24" textLength="4.00" lengthAdjust="spacingAndGlyphs">1</text>
<line x1="391.00" y1="355.90" x2="394.10" y2="355.90" stroke="#222" stroke-width="1"/>
<text x="388.00" y="358.79" font-size="8.4" text-anchor="end" fill="#111" stroke="#111" stroke-width="0.24" textLength="4.00" lengthAdjust="spacingAndGlyphs">2</text>
<line x1="391.00" y1="335.00" x2="394.10" y2="335.00" stroke="#222" stroke-width="1"/>
<text x="388.00" y="337.89" font-size="8.4" text-anchor="end" fill="#111" stroke="#111" stroke-width="0.24" textLength="4.00" lengthAdjust="spacingAndGlyphs">3</text>
<line x1="391.00" y1="314.10" x2="394.10" y2="314.10" stroke="#222" stroke-width="1"/>
<text x="388.00" y="316.99" font-size="8.4" text-anchor="end" fill="#111" stroke="#111" stroke-width="0.24" textLength="4.00" lengthAdjust="spacingAndGlyphs">4</text>
<line x1="411.90" y1="397.70" x2="411.90" y2="400.30" stroke="#222" stroke-width="1"/>
<line x1="449.80" y1="397.70" x2="449.80" y2="400.30" stroke="#222" stroke-width="1"/>
<text x="412.20" y="409.40" font-size="7.8" text-anchor="middle" fill="#111" stroke="#111" stroke-width="0.24" textLength="18.20" lengthAdjust="spacingAndGlyphs">THP1</text>
<text x="452.90" y="409.40" font-size="7.8" text-anchor="middle" fill="#111" stroke="#111" stroke-width="0.24" textLength="31.00" lengthAdjust="spacingAndGlyphs">Molm-13</text>
<text x="377.30" y="359.00" font-size="8.0" text-anchor="middle" fill="#111" stroke="#111" stroke-width="0.12" textLength="43.80" lengthAdjust="spacingAndGlyphs" transform="rotate(-90 377.30 356.20)">HR efficiency</text>
<path d="M403.4,342.8 V340.0 H421.6 V342.8" stroke="#222" stroke-width="1.0" fill="none" />
<ellipse cx="412.50" cy="336.60" rx="1.0" ry="0.85" fill="#1a1a1a"/>
<path d="M442.0,332.8 V328.7 H458.5 V332.8" stroke="#222" stroke-width="1.0" fill="none" />
<ellipse cx="448.30" cy="325.90" rx="1.0" ry="0.85" fill="#1a1a1a"/>
<ellipse cx="451.10" cy="325.90" rx="1.0" ry="0.85" fill="#1a1a1a"/>
<rect x="467.20" y="317.80" width="7.20" height="3.30" fill="#1238c0"/>
<rect x="467.20" y="324.50" width="7.20" height="3.30" fill="#d00010"/>
<text x="477.10" y="321.30" font-size="8.2" text-anchor="start" fill="#111" stroke="#111" stroke-width="0.24" textLength="24.40" lengthAdjust="spacingAndGlyphs">Control</text>
<text x="477.10" y="328.70" font-size="8.2" text-anchor="start" fill="#111" stroke="#111" stroke-width="0.24" textLength="34.20" lengthAdjust="spacingAndGlyphs">GADD45g</text>
<rect x="0" y="0" width="520" height="1.1" fill="#000"/><rect x="0" y="0" width="1.1" height="415" fill="#000"/><rect x="518.6" y="0" width="1.4" height="415" fill="#000"/><rect x="0" y="413.5" width="520" height="1.5" fill="#000"/>
</svg>
</body></html>
